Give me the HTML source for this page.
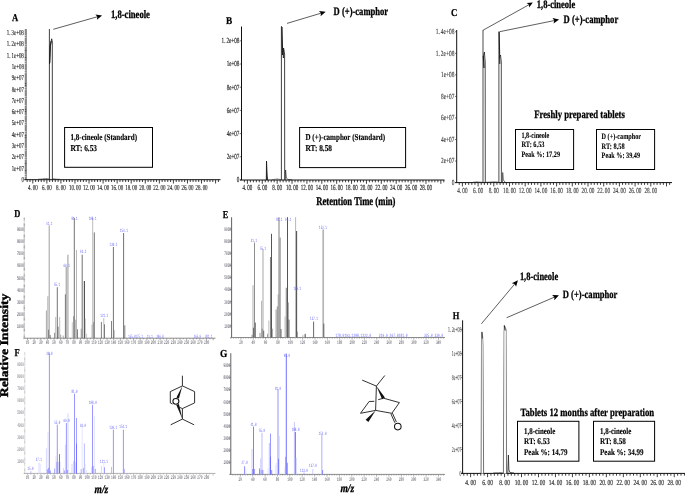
<!DOCTYPE html>
<html><head><meta charset="utf-8"><title>GC-MS figure</title>
<style>
html,body{margin:0;padding:0;background:#fff;}
body{width:685px;height:494px;overflow:hidden;font-family:"Liberation Serif",serif;}
svg{display:block;}
</style></head><body>
<svg width="685" height="494" viewBox="0 0 685 494" text-rendering="geometricPrecision" style="filter:blur(0.3px)">
<rect x="0" y="0" width="685" height="494" fill="#fff"/>
<text x="12" y="21" font-family='"Liberation Serif", serif' font-size="10.5" fill="#000" font-weight="bold" stroke="#000" stroke-width="0.25" textLength="6.2" lengthAdjust="spacingAndGlyphs">A</text>
<line x1="26.35" y1="29" x2="26.35" y2="179.7" stroke="#555" stroke-width="0.5"/>
<line x1="25.6" y1="179.7" x2="25.6" y2="29" stroke="#1a1a1a" stroke-width="1.7" stroke-dasharray="0.54 0.59"/>
<line x1="24.3" y1="179.7" x2="220.5" y2="179.7" stroke="#111" stroke-width="1"/>
<path d="M27.18 179.7L27.18 182M29.99 179.7L29.99 182M32.8 179.7L32.8 183.5M35.61 179.7L35.61 182M38.42 179.7L38.42 182M41.24 179.7L41.24 182M44.05 179.7L44.05 182M46.86 179.7L46.86 183.5M49.67 179.7L49.67 182M52.48 179.7L52.48 182M55.3 179.7L55.3 182M58.11 179.7L58.11 182M60.92 179.7L60.92 183.5M63.73 179.7L63.73 182M66.54 179.7L66.54 182M69.36 179.7L69.36 182M72.17 179.7L72.17 182M74.98 179.7L74.98 183.5M77.79 179.7L77.79 182M80.6 179.7L80.6 182M83.42 179.7L83.42 182M86.23 179.7L86.23 182M89.04 179.7L89.04 183.5M91.85 179.7L91.85 182M94.66 179.7L94.66 182M97.48 179.7L97.48 182M100.29 179.7L100.29 182M103.1 179.7L103.1 183.5M105.91 179.7L105.91 182M108.72 179.7L108.72 182M111.54 179.7L111.54 182M114.35 179.7L114.35 182M117.16 179.7L117.16 183.5M119.97 179.7L119.97 182M122.78 179.7L122.78 182M125.6 179.7L125.6 182M128.41 179.7L128.41 182M131.22 179.7L131.22 183.5M134.03 179.7L134.03 182M136.84 179.7L136.84 182M139.66 179.7L139.66 182M142.47 179.7L142.47 182M145.28 179.7L145.28 183.5M148.09 179.7L148.09 182M150.9 179.7L150.9 182M153.72 179.7L153.72 182M156.53 179.7L156.53 182M159.34 179.7L159.34 183.5M162.15 179.7L162.15 182M164.96 179.7L164.96 182M167.78 179.7L167.78 182M170.59 179.7L170.59 182M173.4 179.7L173.4 183.5M176.21 179.7L176.21 182M179.02 179.7L179.02 182M181.84 179.7L181.84 182M184.65 179.7L184.65 182M187.46 179.7L187.46 183.5M190.27 179.7L190.27 182M193.08 179.7L193.08 182M195.9 179.7L195.9 182M198.71 179.7L198.71 182M201.52 179.7L201.52 183.5M204.33 179.7L204.33 182M207.14 179.7L207.14 182M209.96 179.7L209.96 182M212.77 179.7L212.77 182M215.58 179.7L215.58 183.5M218.39 179.7L218.39 182" fill="none" stroke="#111" stroke-width="0.8"/>
<text x="27.96" y="190.2" font-family='"Liberation Serif", serif' font-size="7.6" fill="#222" textLength="9.68" lengthAdjust="spacingAndGlyphs" stroke="#222" stroke-width="0.15">4. 00</text>
<text x="42.02" y="190.2" font-family='"Liberation Serif", serif' font-size="7.6" fill="#222" textLength="9.68" lengthAdjust="spacingAndGlyphs" stroke="#222" stroke-width="0.15">6. 00</text>
<text x="56.08" y="190.2" font-family='"Liberation Serif", serif' font-size="7.6" fill="#222" textLength="9.68" lengthAdjust="spacingAndGlyphs" stroke="#222" stroke-width="0.15">8. 00</text>
<text x="68.93" y="190.2" font-family='"Liberation Serif", serif' font-size="7.6" fill="#222" textLength="12.1" lengthAdjust="spacingAndGlyphs" stroke="#222" stroke-width="0.15">10. 00</text>
<text x="82.99" y="190.2" font-family='"Liberation Serif", serif' font-size="7.6" fill="#222" textLength="12.1" lengthAdjust="spacingAndGlyphs" stroke="#222" stroke-width="0.15">12. 00</text>
<text x="97.05" y="190.2" font-family='"Liberation Serif", serif' font-size="7.6" fill="#222" textLength="12.1" lengthAdjust="spacingAndGlyphs" stroke="#222" stroke-width="0.15">14. 00</text>
<text x="111.11" y="190.2" font-family='"Liberation Serif", serif' font-size="7.6" fill="#222" textLength="12.1" lengthAdjust="spacingAndGlyphs" stroke="#222" stroke-width="0.15">16. 00</text>
<text x="125.17" y="190.2" font-family='"Liberation Serif", serif' font-size="7.6" fill="#222" textLength="12.1" lengthAdjust="spacingAndGlyphs" stroke="#222" stroke-width="0.15">18. 00</text>
<text x="139.23" y="190.2" font-family='"Liberation Serif", serif' font-size="7.6" fill="#222" textLength="12.1" lengthAdjust="spacingAndGlyphs" stroke="#222" stroke-width="0.15">20. 00</text>
<text x="153.29" y="190.2" font-family='"Liberation Serif", serif' font-size="7.6" fill="#222" textLength="12.1" lengthAdjust="spacingAndGlyphs" stroke="#222" stroke-width="0.15">22. 00</text>
<text x="167.35" y="190.2" font-family='"Liberation Serif", serif' font-size="7.6" fill="#222" textLength="12.1" lengthAdjust="spacingAndGlyphs" stroke="#222" stroke-width="0.15">24. 00</text>
<text x="181.41" y="190.2" font-family='"Liberation Serif", serif' font-size="7.6" fill="#222" textLength="12.1" lengthAdjust="spacingAndGlyphs" stroke="#222" stroke-width="0.15">26. 00</text>
<text x="195.47" y="190.2" font-family='"Liberation Serif", serif' font-size="7.6" fill="#222" textLength="12.1" lengthAdjust="spacingAndGlyphs" stroke="#222" stroke-width="0.15">28. 00</text>
<text x="21.38" y="181.98" font-family='"Liberation Serif", serif' font-size="7.6" fill="#222" textLength="2.42" lengthAdjust="spacingAndGlyphs" stroke="#222" stroke-width="0.15">0</text>
<text x="11.7" y="170.68" font-family='"Liberation Serif", serif' font-size="7.6" fill="#222" textLength="12.1" lengthAdjust="spacingAndGlyphs" stroke="#222" stroke-width="0.15">1e+07</text>
<text x="11.7" y="159.38" font-family='"Liberation Serif", serif' font-size="7.6" fill="#222" textLength="12.1" lengthAdjust="spacingAndGlyphs" stroke="#222" stroke-width="0.15">2e+07</text>
<text x="11.7" y="148.08" font-family='"Liberation Serif", serif' font-size="7.6" fill="#222" textLength="12.1" lengthAdjust="spacingAndGlyphs" stroke="#222" stroke-width="0.15">3e+07</text>
<text x="11.7" y="136.78" font-family='"Liberation Serif", serif' font-size="7.6" fill="#222" textLength="12.1" lengthAdjust="spacingAndGlyphs" stroke="#222" stroke-width="0.15">4e+07</text>
<text x="11.7" y="125.48" font-family='"Liberation Serif", serif' font-size="7.6" fill="#222" textLength="12.1" lengthAdjust="spacingAndGlyphs" stroke="#222" stroke-width="0.15">5e+07</text>
<text x="11.7" y="114.18" font-family='"Liberation Serif", serif' font-size="7.6" fill="#222" textLength="12.1" lengthAdjust="spacingAndGlyphs" stroke="#222" stroke-width="0.15">6e+07</text>
<text x="11.7" y="102.88" font-family='"Liberation Serif", serif' font-size="7.6" fill="#222" textLength="12.1" lengthAdjust="spacingAndGlyphs" stroke="#222" stroke-width="0.15">7e+07</text>
<text x="11.7" y="91.58" font-family='"Liberation Serif", serif' font-size="7.6" fill="#222" textLength="12.1" lengthAdjust="spacingAndGlyphs" stroke="#222" stroke-width="0.15">8e+07</text>
<text x="11.7" y="80.28" font-family='"Liberation Serif", serif' font-size="7.6" fill="#222" textLength="12.1" lengthAdjust="spacingAndGlyphs" stroke="#222" stroke-width="0.15">9e+07</text>
<text x="11.7" y="68.98" font-family='"Liberation Serif", serif' font-size="7.6" fill="#222" textLength="12.1" lengthAdjust="spacingAndGlyphs" stroke="#222" stroke-width="0.15">1e+08</text>
<text x="6.86" y="57.68" font-family='"Liberation Serif", serif' font-size="7.6" fill="#222" textLength="16.94" lengthAdjust="spacingAndGlyphs" stroke="#222" stroke-width="0.15">1. 1e+08</text>
<text x="6.86" y="46.38" font-family='"Liberation Serif", serif' font-size="7.6" fill="#222" textLength="16.94" lengthAdjust="spacingAndGlyphs" stroke="#222" stroke-width="0.15">1. 2e+08</text>
<text x="6.86" y="35.08" font-family='"Liberation Serif", serif' font-size="7.6" fill="#222" textLength="16.94" lengthAdjust="spacingAndGlyphs" stroke="#222" stroke-width="0.15">1. 3e+08</text>
<path d="M49.4 179.7 L49.4 29 M49.5 64 L50.2 46 L51.7 38.8 L52.3 42 L52.4 179.7" fill="none" stroke="#111" stroke-width="0.8"/>
<path d="M49.7 63 L50.3 46 L51.2 41" fill="none" stroke="#222" stroke-width="1.2"/>
<path d="M38 179.3 L43 179 L44 178.6 L45 179 L46 178.5 L47.5 178.7 L49 179" fill="none" stroke="#222" stroke-width="0.6"/>
<path d="M52.5 179 L54 178.8 L56 179.2 L60 179.3" fill="none" stroke="#222" stroke-width="0.6"/>
<line x1="53.3" y1="29.3" x2="97.87" y2="16.61" stroke="#111" stroke-width="0.68"/>
<polygon points="102.1,15.4 96.9,19.79 97.39,16.74 95.37,14.41" fill="#000"/>
<text x="111" y="17.6" font-family='"Liberation Serif", serif' font-size="11.4" fill="#000" font-weight="bold" stroke="#000" stroke-width="0.31" textLength="38.9" lengthAdjust="spacingAndGlyphs">1,8-cineole</text>
<rect x="64.6" y="127.5" width="87.9" height="39.8" fill="none" stroke="#000" stroke-width="1"/>
<text x="70.5" y="139.9" font-family='"Liberation Serif", serif' font-size="9" fill="#000" font-weight="bold" stroke="#000" stroke-width="0.14" textLength="66.5" lengthAdjust="spacingAndGlyphs">1,8-cineole (Standard)</text>
<text x="70.5" y="150.6" font-family='"Liberation Serif", serif' font-size="9" fill="#000" font-weight="bold" stroke="#000" stroke-width="0.14" textLength="26.5" lengthAdjust="spacingAndGlyphs">RT: 6.53</text>
<text x="226" y="23.6" font-family='"Liberation Serif", serif' font-size="10.5" fill="#000" font-weight="bold" stroke="#000" stroke-width="0.25" textLength="6.2" lengthAdjust="spacingAndGlyphs">B</text>
<line x1="241.5" y1="26.5" x2="241.5" y2="180" stroke="#111" stroke-width="1"/>
<path d="M239.7 180L241.5 180M239.7 156.8L241.5 156.8M239.7 133.6L241.5 133.6M239.7 110.4L241.5 110.4M239.7 87.2L241.5 87.2M239.7 64L241.5 64M239.7 40.8L241.5 40.8" fill="none" stroke="#222" stroke-width="0.6"/>
<line x1="240" y1="180" x2="444.5" y2="180" stroke="#111" stroke-width="1"/>
<path d="M244.42 180L244.42 182.3M247.4 180L247.4 183.8M250.38 180L250.38 182.3M253.35 180L253.35 182.3M256.33 180L256.33 182.3M259.3 180L259.3 182.3M262.28 180L262.28 183.8M265.26 180L265.26 182.3M268.23 180L268.23 182.3M271.21 180L271.21 182.3M274.18 180L274.18 182.3M277.16 180L277.16 183.8M280.14 180L280.14 182.3M283.11 180L283.11 182.3M286.09 180L286.09 182.3M289.06 180L289.06 182.3M292.04 180L292.04 183.8M295.02 180L295.02 182.3M297.99 180L297.99 182.3M300.97 180L300.97 182.3M303.94 180L303.94 182.3M306.92 180L306.92 183.8M309.9 180L309.9 182.3M312.87 180L312.87 182.3M315.85 180L315.85 182.3M318.82 180L318.82 182.3M321.8 180L321.8 183.8M324.78 180L324.78 182.3M327.75 180L327.75 182.3M330.73 180L330.73 182.3M333.7 180L333.7 182.3M336.68 180L336.68 183.8M339.66 180L339.66 182.3M342.63 180L342.63 182.3M345.61 180L345.61 182.3M348.58 180L348.58 182.3M351.56 180L351.56 183.8M354.54 180L354.54 182.3M357.51 180L357.51 182.3M360.49 180L360.49 182.3M363.46 180L363.46 182.3M366.44 180L366.44 183.8M369.42 180L369.42 182.3M372.39 180L372.39 182.3M375.37 180L375.37 182.3M378.34 180L378.34 182.3M381.32 180L381.32 183.8M384.3 180L384.3 182.3M387.27 180L387.27 182.3M390.25 180L390.25 182.3M393.22 180L393.22 182.3M396.2 180L396.2 183.8M399.18 180L399.18 182.3M402.15 180L402.15 182.3M405.13 180L405.13 182.3M408.1 180L408.1 182.3M411.08 180L411.08 183.8M414.06 180L414.06 182.3M417.03 180L417.03 182.3M420.01 180L420.01 182.3M422.98 180L422.98 182.3M425.96 180L425.96 183.8M428.94 180L428.94 182.3M431.91 180L431.91 182.3M434.89 180L434.89 182.3M437.86 180L437.86 182.3M440.84 180L440.84 183.8M443.82 180L443.82 182.3" fill="none" stroke="#111" stroke-width="0.8"/>
<text x="242.5" y="190" font-family='"Liberation Serif", serif' font-size="7.8" fill="#2c2c2c" textLength="9.8" lengthAdjust="spacingAndGlyphs" stroke="#2c2c2c" stroke-width="0.2">4. 00</text>
<text x="257.38" y="190" font-family='"Liberation Serif", serif' font-size="7.8" fill="#2c2c2c" textLength="9.8" lengthAdjust="spacingAndGlyphs" stroke="#2c2c2c" stroke-width="0.2">6. 00</text>
<text x="272.26" y="190" font-family='"Liberation Serif", serif' font-size="7.8" fill="#2c2c2c" textLength="9.8" lengthAdjust="spacingAndGlyphs" stroke="#2c2c2c" stroke-width="0.2">8. 00</text>
<text x="285.92" y="190" font-family='"Liberation Serif", serif' font-size="7.8" fill="#2c2c2c" textLength="12.25" lengthAdjust="spacingAndGlyphs" stroke="#2c2c2c" stroke-width="0.2">10. 00</text>
<text x="300.8" y="190" font-family='"Liberation Serif", serif' font-size="7.8" fill="#2c2c2c" textLength="12.25" lengthAdjust="spacingAndGlyphs" stroke="#2c2c2c" stroke-width="0.2">12. 00</text>
<text x="315.68" y="190" font-family='"Liberation Serif", serif' font-size="7.8" fill="#2c2c2c" textLength="12.25" lengthAdjust="spacingAndGlyphs" stroke="#2c2c2c" stroke-width="0.2">14. 00</text>
<text x="330.56" y="190" font-family='"Liberation Serif", serif' font-size="7.8" fill="#2c2c2c" textLength="12.25" lengthAdjust="spacingAndGlyphs" stroke="#2c2c2c" stroke-width="0.2">16. 00</text>
<text x="345.44" y="190" font-family='"Liberation Serif", serif' font-size="7.8" fill="#2c2c2c" textLength="12.25" lengthAdjust="spacingAndGlyphs" stroke="#2c2c2c" stroke-width="0.2">18. 00</text>
<text x="360.31" y="190" font-family='"Liberation Serif", serif' font-size="7.8" fill="#2c2c2c" textLength="12.25" lengthAdjust="spacingAndGlyphs" stroke="#2c2c2c" stroke-width="0.2">20. 00</text>
<text x="375.2" y="190" font-family='"Liberation Serif", serif' font-size="7.8" fill="#2c2c2c" textLength="12.25" lengthAdjust="spacingAndGlyphs" stroke="#2c2c2c" stroke-width="0.2">22. 00</text>
<text x="390.08" y="190" font-family='"Liberation Serif", serif' font-size="7.8" fill="#2c2c2c" textLength="12.25" lengthAdjust="spacingAndGlyphs" stroke="#2c2c2c" stroke-width="0.2">24. 00</text>
<text x="404.96" y="190" font-family='"Liberation Serif", serif' font-size="7.8" fill="#2c2c2c" textLength="12.25" lengthAdjust="spacingAndGlyphs" stroke="#2c2c2c" stroke-width="0.2">26. 00</text>
<text x="419.84" y="190" font-family='"Liberation Serif", serif' font-size="7.8" fill="#2c2c2c" textLength="12.25" lengthAdjust="spacingAndGlyphs" stroke="#2c2c2c" stroke-width="0.2">28. 00</text>
<text x="236.86" y="182.34" font-family='"Liberation Serif", serif' font-size="7.8" fill="#2c2c2c" textLength="2.54" lengthAdjust="spacingAndGlyphs" stroke="#2c2c2c" stroke-width="0.2">0</text>
<text x="226.7" y="159.14" font-family='"Liberation Serif", serif' font-size="7.8" fill="#2c2c2c" textLength="12.7" lengthAdjust="spacingAndGlyphs" stroke="#2c2c2c" stroke-width="0.2">2e+07</text>
<text x="226.7" y="135.94" font-family='"Liberation Serif", serif' font-size="7.8" fill="#2c2c2c" textLength="12.7" lengthAdjust="spacingAndGlyphs" stroke="#2c2c2c" stroke-width="0.2">4e+07</text>
<text x="226.7" y="112.74" font-family='"Liberation Serif", serif' font-size="7.8" fill="#2c2c2c" textLength="12.7" lengthAdjust="spacingAndGlyphs" stroke="#2c2c2c" stroke-width="0.2">6e+07</text>
<text x="226.7" y="89.54" font-family='"Liberation Serif", serif' font-size="7.8" fill="#2c2c2c" textLength="12.7" lengthAdjust="spacingAndGlyphs" stroke="#2c2c2c" stroke-width="0.2">8e+07</text>
<text x="226.7" y="66.34" font-family='"Liberation Serif", serif' font-size="7.8" fill="#2c2c2c" textLength="12.7" lengthAdjust="spacingAndGlyphs" stroke="#2c2c2c" stroke-width="0.2">1e+08</text>
<text x="221.62" y="43.14" font-family='"Liberation Serif", serif' font-size="7.8" fill="#2c2c2c" textLength="17.78" lengthAdjust="spacingAndGlyphs" stroke="#2c2c2c" stroke-width="0.2">1. 2e+08</text>
<path d="M266.3 180 L266.5 161 L267.2 176 L267.6 180" fill="#333" stroke="#111" stroke-width="0.8"/>
<path d="M281.4 180 L281.4 26.5 L282.0 26.5 M282.2 50 L283 52 L283.6 48 L284.6 54 L284.7 180" fill="none" stroke="#111" stroke-width="0.8"/>
<path d="M281.9 27 L282.6 55" fill="none" stroke="#222" stroke-width="1.3"/>
<path d="M283.2 49 L283.4 58" fill="none" stroke="#222" stroke-width="1.1"/>
<path d="M285.3 180 L285.6 170 L286.3 178 L288 179.5 L292 179.8" fill="none" stroke="#222" stroke-width="0.7"/>
<path d="M272 179.6 L276 179.2 L277 178.8 L279 179.3 L281 179.5" fill="none" stroke="#333" stroke-width="0.5"/>
<line x1="287" y1="23.4" x2="321.49" y2="13.06" stroke="#111" stroke-width="0.68"/>
<polygon points="325.7,11.8 320.56,16.26 321.01,13.21 318.96,10.9" fill="#000"/>
<text x="333.6" y="15.1" font-family='"Liberation Serif", serif' font-size="11.4" fill="#000" font-weight="bold" stroke="#000" stroke-width="0.31" textLength="54.5" lengthAdjust="spacingAndGlyphs">D (+)-camphor</text>
<rect x="299.6" y="127.5" width="106" height="40.1" fill="none" stroke="#000" stroke-width="1"/>
<text x="305.5" y="139.9" font-family='"Liberation Serif", serif' font-size="9" fill="#000" font-weight="bold" stroke="#000" stroke-width="0.14" textLength="79.6" lengthAdjust="spacingAndGlyphs">D (+)-camphor (Standard)</text>
<text x="305.5" y="150.6" font-family='"Liberation Serif", serif' font-size="9" fill="#000" font-weight="bold" stroke="#000" stroke-width="0.14" textLength="26.5" lengthAdjust="spacingAndGlyphs">RT: 8.58</text>
<text x="316.2" y="204.8" font-family='"Liberation Serif", serif' font-size="11.7" fill="#000" font-weight="bold" stroke="#000" stroke-width="0.33" textLength="79.3" lengthAdjust="spacingAndGlyphs">Retention Time (min)</text>
<text x="451" y="16.2" font-family='"Liberation Serif", serif' font-size="10.5" fill="#000" font-weight="bold" stroke="#000" stroke-width="0.25" textLength="6.4" lengthAdjust="spacingAndGlyphs">C</text>
<line x1="456.7" y1="30" x2="456.7" y2="182.6" stroke="#111" stroke-width="1"/>
<path d="M454.9 182.6L456.7 182.6M454.9 161.05L456.7 161.05M454.9 139.5L456.7 139.5M454.9 117.95L456.7 117.95M454.9 96.4L456.7 96.4M454.9 74.85L456.7 74.85M454.9 53.3L456.7 53.3M454.9 31.75L456.7 31.75" fill="none" stroke="#222" stroke-width="0.6"/>
<line x1="455.2" y1="182.6" x2="672" y2="182.6" stroke="#111" stroke-width="1"/>
<path d="M459.26 182.6L459.26 184.9M462.4 182.6L462.4 186.4M465.54 182.6L465.54 184.9M468.68 182.6L468.68 184.9M471.82 182.6L471.82 184.9M474.96 182.6L474.96 184.9M478.1 182.6L478.1 186.4M481.24 182.6L481.24 184.9M484.38 182.6L484.38 184.9M487.52 182.6L487.52 184.9M490.66 182.6L490.66 184.9M493.8 182.6L493.8 186.4M496.94 182.6L496.94 184.9M500.08 182.6L500.08 184.9M503.22 182.6L503.22 184.9M506.36 182.6L506.36 184.9M509.5 182.6L509.5 186.4M512.64 182.6L512.64 184.9M515.78 182.6L515.78 184.9M518.92 182.6L518.92 184.9M522.06 182.6L522.06 184.9M525.2 182.6L525.2 186.4M528.34 182.6L528.34 184.9M531.48 182.6L531.48 184.9M534.62 182.6L534.62 184.9M537.76 182.6L537.76 184.9M540.9 182.6L540.9 186.4M544.04 182.6L544.04 184.9M547.18 182.6L547.18 184.9M550.32 182.6L550.32 184.9M553.46 182.6L553.46 184.9M556.6 182.6L556.6 186.4M559.74 182.6L559.74 184.9M562.88 182.6L562.88 184.9M566.02 182.6L566.02 184.9M569.16 182.6L569.16 184.9M572.3 182.6L572.3 186.4M575.44 182.6L575.44 184.9M578.58 182.6L578.58 184.9M581.72 182.6L581.72 184.9M584.86 182.6L584.86 184.9M588 182.6L588 186.4M591.14 182.6L591.14 184.9M594.28 182.6L594.28 184.9M597.42 182.6L597.42 184.9M600.56 182.6L600.56 184.9M603.7 182.6L603.7 186.4M606.84 182.6L606.84 184.9M609.98 182.6L609.98 184.9M613.12 182.6L613.12 184.9M616.26 182.6L616.26 184.9M619.4 182.6L619.4 186.4M622.54 182.6L622.54 184.9M625.68 182.6L625.68 184.9M628.82 182.6L628.82 184.9M631.96 182.6L631.96 184.9M635.1 182.6L635.1 186.4M638.24 182.6L638.24 184.9M641.38 182.6L641.38 184.9M644.52 182.6L644.52 184.9M647.66 182.6L647.66 184.9M650.8 182.6L650.8 186.4M653.94 182.6L653.94 184.9M657.08 182.6L657.08 184.9M660.22 182.6L660.22 184.9M663.36 182.6L663.36 184.9M666.5 182.6L666.5 186.4M669.64 182.6L669.64 184.9" fill="none" stroke="#111" stroke-width="0.8"/>
<text x="457.3" y="192.5" font-family='"Liberation Serif", serif' font-size="7.8" fill="#3c3c3c" textLength="10.2" lengthAdjust="spacingAndGlyphs" stroke="#3c3c3c" stroke-width="0.15">4. 00</text>
<text x="473" y="192.5" font-family='"Liberation Serif", serif' font-size="7.8" fill="#3c3c3c" textLength="10.2" lengthAdjust="spacingAndGlyphs" stroke="#3c3c3c" stroke-width="0.15">6. 00</text>
<text x="488.7" y="192.5" font-family='"Liberation Serif", serif' font-size="7.8" fill="#3c3c3c" textLength="10.2" lengthAdjust="spacingAndGlyphs" stroke="#3c3c3c" stroke-width="0.15">8. 00</text>
<text x="503.12" y="192.5" font-family='"Liberation Serif", serif' font-size="7.8" fill="#3c3c3c" textLength="12.75" lengthAdjust="spacingAndGlyphs" stroke="#3c3c3c" stroke-width="0.15">10. 00</text>
<text x="518.82" y="192.5" font-family='"Liberation Serif", serif' font-size="7.8" fill="#3c3c3c" textLength="12.75" lengthAdjust="spacingAndGlyphs" stroke="#3c3c3c" stroke-width="0.15">12. 00</text>
<text x="534.52" y="192.5" font-family='"Liberation Serif", serif' font-size="7.8" fill="#3c3c3c" textLength="12.75" lengthAdjust="spacingAndGlyphs" stroke="#3c3c3c" stroke-width="0.15">14. 00</text>
<text x="550.22" y="192.5" font-family='"Liberation Serif", serif' font-size="7.8" fill="#3c3c3c" textLength="12.75" lengthAdjust="spacingAndGlyphs" stroke="#3c3c3c" stroke-width="0.15">16. 00</text>
<text x="565.92" y="192.5" font-family='"Liberation Serif", serif' font-size="7.8" fill="#3c3c3c" textLength="12.75" lengthAdjust="spacingAndGlyphs" stroke="#3c3c3c" stroke-width="0.15">18. 00</text>
<text x="581.62" y="192.5" font-family='"Liberation Serif", serif' font-size="7.8" fill="#3c3c3c" textLength="12.75" lengthAdjust="spacingAndGlyphs" stroke="#3c3c3c" stroke-width="0.15">20. 00</text>
<text x="597.32" y="192.5" font-family='"Liberation Serif", serif' font-size="7.8" fill="#3c3c3c" textLength="12.75" lengthAdjust="spacingAndGlyphs" stroke="#3c3c3c" stroke-width="0.15">22. 00</text>
<text x="613.02" y="192.5" font-family='"Liberation Serif", serif' font-size="7.8" fill="#3c3c3c" textLength="12.75" lengthAdjust="spacingAndGlyphs" stroke="#3c3c3c" stroke-width="0.15">24. 00</text>
<text x="628.72" y="192.5" font-family='"Liberation Serif", serif' font-size="7.8" fill="#3c3c3c" textLength="12.75" lengthAdjust="spacingAndGlyphs" stroke="#3c3c3c" stroke-width="0.15">26. 00</text>
<text x="644.42" y="192.5" font-family='"Liberation Serif", serif' font-size="7.8" fill="#3c3c3c" textLength="12.75" lengthAdjust="spacingAndGlyphs" stroke="#3c3c3c" stroke-width="0.15">28. 00</text>
<text x="451.73" y="184.94" font-family='"Liberation Serif", serif' font-size="7.8" fill="#3c3c3c" textLength="2.67" lengthAdjust="spacingAndGlyphs" stroke="#3c3c3c" stroke-width="0.15">0</text>
<text x="441.05" y="163.39" font-family='"Liberation Serif", serif' font-size="7.8" fill="#3c3c3c" textLength="13.35" lengthAdjust="spacingAndGlyphs" stroke="#3c3c3c" stroke-width="0.15">2e+07</text>
<text x="441.05" y="141.84" font-family='"Liberation Serif", serif' font-size="7.8" fill="#3c3c3c" textLength="13.35" lengthAdjust="spacingAndGlyphs" stroke="#3c3c3c" stroke-width="0.15">4e+07</text>
<text x="441.05" y="120.29" font-family='"Liberation Serif", serif' font-size="7.8" fill="#3c3c3c" textLength="13.35" lengthAdjust="spacingAndGlyphs" stroke="#3c3c3c" stroke-width="0.15">6e+07</text>
<text x="441.05" y="98.74" font-family='"Liberation Serif", serif' font-size="7.8" fill="#3c3c3c" textLength="13.35" lengthAdjust="spacingAndGlyphs" stroke="#3c3c3c" stroke-width="0.15">8e+07</text>
<text x="441.05" y="77.19" font-family='"Liberation Serif", serif' font-size="7.8" fill="#3c3c3c" textLength="13.35" lengthAdjust="spacingAndGlyphs" stroke="#3c3c3c" stroke-width="0.15">1e+08</text>
<text x="435.71" y="55.64" font-family='"Liberation Serif", serif' font-size="7.8" fill="#3c3c3c" textLength="18.69" lengthAdjust="spacingAndGlyphs" stroke="#3c3c3c" stroke-width="0.15">1. 2e+08</text>
<text x="435.71" y="34.09" font-family='"Liberation Serif", serif' font-size="7.8" fill="#3c3c3c" textLength="18.69" lengthAdjust="spacingAndGlyphs" stroke="#3c3c3c" stroke-width="0.15">1. 4e+08</text>
<path d="M483.0 182.6 L483.0 30 M483.3 57 L484.4 52 L485.2 62 L485.3 182.6" fill="none" stroke="#111" stroke-width="0.75"/>
<path d="M483.4 56 L484.0 68" fill="none" stroke="#222" stroke-width="1.3"/>
<path d="M498.9 182.6 L498.9 31.4 M499.2 58 L500.5 55 L501.3 62 L501.4 182.6" fill="none" stroke="#111" stroke-width="0.75"/>
<path d="M499.2 32 L499.8 64" fill="none" stroke="#222" stroke-width="1.1"/>
<path d="M502.5 182.6 L502.7 172.5 L503.3 180 L505 182" fill="none" stroke="#333" stroke-width="0.7"/>
<path d="M473 182.2 L476 181.9 L477 181.5 L478 182 L482 182.2 M486 182.2 L490 182 L494 181.7 L498 182" fill="none" stroke="#333" stroke-width="0.5"/>
<line x1="483.1" y1="30.2" x2="529.48" y2="4.44" stroke="#111" stroke-width="0.68"/>
<polygon points="532.8,2.6 529.17,7.59 529.04,4.69 526.64,3.05" fill="#000"/>
<line x1="499.6" y1="31.7" x2="554.79" y2="20.48" stroke="#111" stroke-width="0.68"/>
<polygon points="559.1,19.6 553.58,23.58 554.3,20.58 552.47,18.09" fill="#000"/>
<text x="536.8" y="7.6" font-family='"Liberation Serif", serif' font-size="11.4" fill="#000" font-weight="bold" stroke="#000" stroke-width="0.31" textLength="38.4" lengthAdjust="spacingAndGlyphs">1,8-cineole</text>
<text x="563.6" y="23.2" font-family='"Liberation Serif", serif' font-size="11.4" fill="#000" font-weight="bold" stroke="#000" stroke-width="0.31" textLength="54.6" lengthAdjust="spacingAndGlyphs">D (+)-camphor</text>
<text x="534.3" y="117.8" font-family='"Liberation Serif", serif' font-size="11.3" fill="#000" font-weight="bold" stroke="#000" stroke-width="0.3" textLength="90.5" lengthAdjust="spacingAndGlyphs">Freshly prepared tablets</text>
<rect x="515.5" y="129.5" width="58.1" height="40" fill="none" stroke="#000" stroke-width="1"/>
<rect x="596.5" y="129.5" width="58.1" height="40" fill="none" stroke="#000" stroke-width="1"/>
<text x="521.5" y="137.7" font-family='"Liberation Serif", serif' font-size="8.3" fill="#000" font-weight="bold" stroke="#000" stroke-width="0.09" textLength="27.8" lengthAdjust="spacingAndGlyphs">1,8-cineole</text>
<text x="521.5" y="147.1" font-family='"Liberation Serif", serif' font-size="8.3" fill="#000" font-weight="bold" stroke="#000" stroke-width="0.09" textLength="23" lengthAdjust="spacingAndGlyphs">RT: 6.53</text>
<text x="521.5" y="156.5" font-family='"Liberation Serif", serif' font-size="8.3" fill="#000" font-weight="bold" stroke="#000" stroke-width="0.09" textLength="38.5" lengthAdjust="spacingAndGlyphs">Peak %: 17.29</text>
<text x="601.6" y="139.1" font-family='"Liberation Serif", serif' font-size="8.3" fill="#000" font-weight="bold" stroke="#000" stroke-width="0.09" textLength="39.4" lengthAdjust="spacingAndGlyphs">D (+)-camphor</text>
<text x="601.6" y="148.7" font-family='"Liberation Serif", serif' font-size="8.3" fill="#000" font-weight="bold" stroke="#000" stroke-width="0.09" textLength="23" lengthAdjust="spacingAndGlyphs">RT: 8.58</text>
<text x="601.6" y="158.1" font-family='"Liberation Serif", serif' font-size="8.3" fill="#000" font-weight="bold" stroke="#000" stroke-width="0.09" textLength="38.4" lengthAdjust="spacingAndGlyphs">Peak %: 39.49</text>
<text x="452.7" y="319.3" font-family='"Liberation Serif", serif' font-size="10.5" fill="#000" font-weight="bold" stroke="#000" stroke-width="0.25" textLength="6.6" lengthAdjust="spacingAndGlyphs">H</text>
<line x1="462.6" y1="320.3" x2="462.6" y2="473.4" stroke="#111" stroke-width="1"/>
<path d="M460.8 473.4L462.6 473.4M460.8 449.45L462.6 449.45M460.8 425.5L462.6 425.5M460.8 401.55L462.6 401.55M460.8 377.6L462.6 377.6M460.8 353.65L462.6 353.65M460.8 329.7L462.6 329.7" fill="none" stroke="#222" stroke-width="0.6"/>
<line x1="461.1" y1="473.4" x2="686" y2="473.4" stroke="#111" stroke-width="1"/>
<path d="M463.81 473.4L463.81 475.7M467.21 473.4L467.21 475.7M470.6 473.4L470.6 477.2M473.99 473.4L473.99 475.7M477.39 473.4L477.39 475.7M480.78 473.4L480.78 475.7M484.18 473.4L484.18 475.7M487.57 473.4L487.57 477.2M490.96 473.4L490.96 475.7M494.36 473.4L494.36 475.7M497.75 473.4L497.75 475.7M501.15 473.4L501.15 475.7M504.54 473.4L504.54 477.2M507.93 473.4L507.93 475.7M511.33 473.4L511.33 475.7M514.72 473.4L514.72 475.7M518.12 473.4L518.12 475.7M521.51 473.4L521.51 477.2M524.9 473.4L524.9 475.7M528.3 473.4L528.3 475.7M531.69 473.4L531.69 475.7M535.09 473.4L535.09 475.7M538.48 473.4L538.48 477.2M541.87 473.4L541.87 475.7M545.27 473.4L545.27 475.7M548.66 473.4L548.66 475.7M552.06 473.4L552.06 475.7M555.45 473.4L555.45 477.2M558.84 473.4L558.84 475.7M562.24 473.4L562.24 475.7M565.63 473.4L565.63 475.7M569.03 473.4L569.03 475.7M572.42 473.4L572.42 477.2M575.81 473.4L575.81 475.7M579.21 473.4L579.21 475.7M582.6 473.4L582.6 475.7M586 473.4L586 475.7M589.39 473.4L589.39 477.2M592.78 473.4L592.78 475.7M596.18 473.4L596.18 475.7M599.57 473.4L599.57 475.7M602.97 473.4L602.97 475.7M606.36 473.4L606.36 477.2M609.75 473.4L609.75 475.7M613.15 473.4L613.15 475.7M616.54 473.4L616.54 475.7M619.94 473.4L619.94 475.7M623.33 473.4L623.33 477.2M626.72 473.4L626.72 475.7M630.12 473.4L630.12 475.7M633.51 473.4L633.51 475.7M636.91 473.4L636.91 475.7M640.3 473.4L640.3 477.2M643.69 473.4L643.69 475.7M647.09 473.4L647.09 475.7M650.48 473.4L650.48 475.7M653.88 473.4L653.88 475.7M657.27 473.4L657.27 477.2M660.66 473.4L660.66 475.7M664.06 473.4L664.06 475.7M667.45 473.4L667.45 475.7M670.85 473.4L670.85 475.7M674.24 473.4L674.24 477.2M677.63 473.4L677.63 475.7M681.03 473.4L681.03 475.7M684.42 473.4L684.42 475.7" fill="none" stroke="#111" stroke-width="0.8"/>
<text x="465.2" y="484.7" font-family='"Liberation Serif", serif' font-size="7.6" fill="#333" textLength="10.8" lengthAdjust="spacingAndGlyphs" stroke="#333" stroke-width="0.2">4. 00</text>
<text x="482.17" y="484.7" font-family='"Liberation Serif", serif' font-size="7.6" fill="#333" textLength="10.8" lengthAdjust="spacingAndGlyphs" stroke="#333" stroke-width="0.2">6. 00</text>
<text x="499.14" y="484.7" font-family='"Liberation Serif", serif' font-size="7.6" fill="#333" textLength="10.8" lengthAdjust="spacingAndGlyphs" stroke="#333" stroke-width="0.2">8. 00</text>
<text x="514.76" y="484.7" font-family='"Liberation Serif", serif' font-size="7.6" fill="#333" textLength="13.5" lengthAdjust="spacingAndGlyphs" stroke="#333" stroke-width="0.2">10. 00</text>
<text x="531.73" y="484.7" font-family='"Liberation Serif", serif' font-size="7.6" fill="#333" textLength="13.5" lengthAdjust="spacingAndGlyphs" stroke="#333" stroke-width="0.2">12. 00</text>
<text x="548.7" y="484.7" font-family='"Liberation Serif", serif' font-size="7.6" fill="#333" textLength="13.5" lengthAdjust="spacingAndGlyphs" stroke="#333" stroke-width="0.2">14. 00</text>
<text x="565.67" y="484.7" font-family='"Liberation Serif", serif' font-size="7.6" fill="#333" textLength="13.5" lengthAdjust="spacingAndGlyphs" stroke="#333" stroke-width="0.2">16. 00</text>
<text x="582.64" y="484.7" font-family='"Liberation Serif", serif' font-size="7.6" fill="#333" textLength="13.5" lengthAdjust="spacingAndGlyphs" stroke="#333" stroke-width="0.2">18. 00</text>
<text x="599.61" y="484.7" font-family='"Liberation Serif", serif' font-size="7.6" fill="#333" textLength="13.5" lengthAdjust="spacingAndGlyphs" stroke="#333" stroke-width="0.2">20. 00</text>
<text x="616.58" y="484.7" font-family='"Liberation Serif", serif' font-size="7.6" fill="#333" textLength="13.5" lengthAdjust="spacingAndGlyphs" stroke="#333" stroke-width="0.2">22. 00</text>
<text x="633.55" y="484.7" font-family='"Liberation Serif", serif' font-size="7.6" fill="#333" textLength="13.5" lengthAdjust="spacingAndGlyphs" stroke="#333" stroke-width="0.2">24. 00</text>
<text x="650.52" y="484.7" font-family='"Liberation Serif", serif' font-size="7.6" fill="#333" textLength="13.5" lengthAdjust="spacingAndGlyphs" stroke="#333" stroke-width="0.2">26. 00</text>
<text x="667.49" y="484.7" font-family='"Liberation Serif", serif' font-size="7.6" fill="#333" textLength="13.5" lengthAdjust="spacingAndGlyphs" stroke="#333" stroke-width="0.2">28. 00</text>
<text x="459.41" y="475.68" font-family='"Liberation Serif", serif' font-size="7.6" fill="#484848" textLength="1.89" lengthAdjust="spacingAndGlyphs" stroke="#484848" stroke-width="0.1">0</text>
<text x="451.85" y="451.73" font-family='"Liberation Serif", serif' font-size="7.6" fill="#484848" textLength="9.45" lengthAdjust="spacingAndGlyphs" stroke="#484848" stroke-width="0.1">2e+07</text>
<text x="451.85" y="427.78" font-family='"Liberation Serif", serif' font-size="7.6" fill="#484848" textLength="9.45" lengthAdjust="spacingAndGlyphs" stroke="#484848" stroke-width="0.1">4e+07</text>
<text x="451.85" y="403.83" font-family='"Liberation Serif", serif' font-size="7.6" fill="#484848" textLength="9.45" lengthAdjust="spacingAndGlyphs" stroke="#484848" stroke-width="0.1">6e+07</text>
<text x="451.85" y="379.88" font-family='"Liberation Serif", serif' font-size="7.6" fill="#484848" textLength="9.45" lengthAdjust="spacingAndGlyphs" stroke="#484848" stroke-width="0.1">8e+07</text>
<text x="451.85" y="355.93" font-family='"Liberation Serif", serif' font-size="7.6" fill="#484848" textLength="9.45" lengthAdjust="spacingAndGlyphs" stroke="#484848" stroke-width="0.1">1e+08</text>
<text x="448.07" y="331.98" font-family='"Liberation Serif", serif' font-size="7.6" fill="#484848" textLength="13.23" lengthAdjust="spacingAndGlyphs" stroke="#484848" stroke-width="0.1">1. 2e+08</text>
<defs><linearGradient id="hg" gradientUnits="userSpaceOnUse" x1="0" y1="328" x2="0" y2="473"><stop offset="0" stop-color="#777"/><stop offset="0.35" stop-color="#555"/><stop offset="1" stop-color="#303030"/></linearGradient></defs>
<path d="M481.1 473.4 L481.5 336 L482.0 331.8 L482.7 337 L483.1 346 L483.6 473.4" fill="#fff" stroke="url(#hg)" stroke-width="0.7"/>
<path d="M481.9 332.2 L482.3 338.5" fill="none" stroke="#333" stroke-width="1"/>
<path d="M503.4 473.4 L503.9 332 L504.4 325.2 L505.6 328 L506.3 330 L506.5 473.4" fill="#fff" stroke="url(#hg)" stroke-width="0.7"/>
<path d="M504.3 325.6 L505.2 330.5" fill="none" stroke="#333" stroke-width="1.2"/>
<path d="M507.8 473.4 L508.4 455 L508.9 470 L510 472.6 L514 473" fill="none" stroke="#222" stroke-width="0.8"/>
<path d="M493 473 L496 472.6 L498 472.8 L500 472.4 L503 472.9" fill="none" stroke="#333" stroke-width="0.5"/>
<line x1="481.4" y1="323.8" x2="515.08" y2="283.57" stroke="#111" stroke-width="0.68"/>
<polygon points="517.9,280.2 516.07,286.75 514.75,283.96 511.77,283.16" fill="#000"/>
<line x1="506.7" y1="317.7" x2="554.86" y2="296.94" stroke="#111" stroke-width="0.68"/>
<polygon points="558.9,295.2 554.31,300.23 554.4,297.14 552.1,295.08" fill="#000"/>
<text x="519.9" y="279.6" font-family='"Liberation Serif", serif' font-size="11.2" fill="#000" font-weight="bold" stroke="#000" stroke-width="0.29" textLength="38.3" lengthAdjust="spacingAndGlyphs">1,8-cineole</text>
<text x="562.8" y="297.7" font-family='"Liberation Serif", serif' font-size="11.2" fill="#000" font-weight="bold" stroke="#000" stroke-width="0.29" textLength="54.6" lengthAdjust="spacingAndGlyphs">D (+)-camphor</text>
<text x="520.5" y="415.7" font-family='"Liberation Serif", serif' font-size="11.2" fill="#000" font-weight="bold" stroke="#000" stroke-width="0.29" textLength="133.7" lengthAdjust="spacingAndGlyphs">Tablets 12 months after preparation</text>
<rect x="517.5" y="421.3" width="61.4" height="39.9" fill="none" stroke="#000" stroke-width="1"/>
<rect x="593.5" y="421.3" width="61.1" height="39.9" fill="none" stroke="#000" stroke-width="1"/>
<text x="524" y="433.5" font-family='"Liberation Serif", serif' font-size="8.8" fill="#000" font-weight="bold" stroke="#000" stroke-width="0.13" textLength="31.3" lengthAdjust="spacingAndGlyphs">1,8-cineole</text>
<text x="524" y="444.2" font-family='"Liberation Serif", serif' font-size="8.8" fill="#000" font-weight="bold" stroke="#000" stroke-width="0.13" textLength="25.9" lengthAdjust="spacingAndGlyphs">RT: 6.53</text>
<text x="524" y="454.7" font-family='"Liberation Serif", serif' font-size="8.8" fill="#000" font-weight="bold" stroke="#000" stroke-width="0.13" textLength="43.5" lengthAdjust="spacingAndGlyphs">Peak %: 14.79</text>
<text x="600" y="433.5" font-family='"Liberation Serif", serif' font-size="8.8" fill="#000" font-weight="bold" stroke="#000" stroke-width="0.13" textLength="31.3" lengthAdjust="spacingAndGlyphs">1,8-cineole</text>
<text x="600" y="444.2" font-family='"Liberation Serif", serif' font-size="8.8" fill="#000" font-weight="bold" stroke="#000" stroke-width="0.13" textLength="25.9" lengthAdjust="spacingAndGlyphs">RT: 8.58</text>
<text x="600" y="454.7" font-family='"Liberation Serif", serif' font-size="8.8" fill="#000" font-weight="bold" stroke="#000" stroke-width="0.13" textLength="43.5" lengthAdjust="spacingAndGlyphs">Peak %: 34.99</text>
<text x="14.2" y="216.6" font-family='"Liberation Serif", serif' font-size="10.6" fill="#000" font-weight="bold" stroke="#000" stroke-width="0.25" textLength="6.1" lengthAdjust="spacingAndGlyphs">D</text>
<line x1="24.3" y1="338.2" x2="24.3" y2="217.2" stroke="#949494" stroke-width="1.5" stroke-dasharray="0.62 0.6"/>
<text x="16.94" y="230.9" font-family='"Liberation Mono", monospace' font-size="5.7" fill="#50505e" textLength="6.66" lengthAdjust="spacingAndGlyphs">9000</text>
<text x="16.94" y="243.05" font-family='"Liberation Mono", monospace' font-size="5.7" fill="#50505e" textLength="6.66" lengthAdjust="spacingAndGlyphs">8000</text>
<text x="16.94" y="255.2" font-family='"Liberation Mono", monospace' font-size="5.7" fill="#50505e" textLength="6.66" lengthAdjust="spacingAndGlyphs">7000</text>
<text x="16.94" y="267.35" font-family='"Liberation Mono", monospace' font-size="5.7" fill="#50505e" textLength="6.66" lengthAdjust="spacingAndGlyphs">6000</text>
<text x="16.94" y="279.5" font-family='"Liberation Mono", monospace' font-size="5.7" fill="#50505e" textLength="6.66" lengthAdjust="spacingAndGlyphs">5000</text>
<text x="16.94" y="291.65" font-family='"Liberation Mono", monospace' font-size="5.7" fill="#50505e" textLength="6.66" lengthAdjust="spacingAndGlyphs">4000</text>
<text x="16.94" y="303.8" font-family='"Liberation Mono", monospace' font-size="5.7" fill="#50505e" textLength="6.66" lengthAdjust="spacingAndGlyphs">3000</text>
<text x="16.94" y="315.95" font-family='"Liberation Mono", monospace' font-size="5.7" fill="#50505e" textLength="6.66" lengthAdjust="spacingAndGlyphs">2000</text>
<text x="16.94" y="328.1" font-family='"Liberation Mono", monospace' font-size="5.7" fill="#50505e" textLength="6.66" lengthAdjust="spacingAndGlyphs">1000</text>
<line x1="23.3" y1="338.2" x2="215.5" y2="338.2" stroke="#6a6a6a" stroke-width="0.75"/>
<path d="M27.5 338.2L27.5 340.4M30.82 338.2L30.82 339.3M34.13 338.2L34.13 340.4M37.45 338.2L37.45 339.3M40.76 338.2L40.76 340.4M44.07 338.2L44.07 339.3M47.39 338.2L47.39 340.4M50.7 338.2L50.7 339.3M54.02 338.2L54.02 340.4M57.33 338.2L57.33 339.3M60.65 338.2L60.65 340.4M63.96 338.2L63.96 339.3M67.28 338.2L67.28 340.4M70.59 338.2L70.59 339.3M73.91 338.2L73.91 340.4M77.22 338.2L77.22 339.3M80.54 338.2L80.54 340.4M83.85 338.2L83.85 339.3M87.17 338.2L87.17 340.4M90.48 338.2L90.48 339.3M93.8 338.2L93.8 340.4M97.11 338.2L97.11 339.3M100.43 338.2L100.43 340.4M103.74 338.2L103.74 339.3M107.06 338.2L107.06 340.4M110.37 338.2L110.37 339.3M113.69 338.2L113.69 340.4M117 338.2L117 339.3M120.32 338.2L120.32 340.4M123.63 338.2L123.63 339.3M126.95 338.2L126.95 340.4M130.26 338.2L130.26 339.3M133.58 338.2L133.58 340.4M136.89 338.2L136.89 339.3M140.21 338.2L140.21 340.4M143.52 338.2L143.52 339.3M146.84 338.2L146.84 340.4M150.15 338.2L150.15 339.3M153.47 338.2L153.47 340.4M156.78 338.2L156.78 339.3M160.1 338.2L160.1 340.4M163.41 338.2L163.41 339.3M166.73 338.2L166.73 340.4M170.04 338.2L170.04 339.3M173.36 338.2L173.36 340.4M176.67 338.2L176.67 339.3M179.99 338.2L179.99 340.4M183.3 338.2L183.3 339.3M186.62 338.2L186.62 340.4M189.93 338.2L189.93 339.3M193.25 338.2L193.25 340.4M196.56 338.2L196.56 339.3M199.88 338.2L199.88 340.4M203.19 338.2L203.19 339.3M206.51 338.2L206.51 340.4M209.82 338.2L209.82 339.3M213.14 338.2L213.14 340.4" fill="none" stroke="#6a6a6a" stroke-width="0.55"/>
<text x="25.75" y="344.2" font-family='"Liberation Mono", monospace' font-size="5.4" fill="#52525e" textLength="3.5" lengthAdjust="spacingAndGlyphs">10</text>
<text x="32.38" y="344.2" font-family='"Liberation Mono", monospace' font-size="5.4" fill="#52525e" textLength="3.5" lengthAdjust="spacingAndGlyphs">20</text>
<text x="39.01" y="344.2" font-family='"Liberation Mono", monospace' font-size="5.4" fill="#52525e" textLength="3.5" lengthAdjust="spacingAndGlyphs">30</text>
<text x="45.64" y="344.2" font-family='"Liberation Mono", monospace' font-size="5.4" fill="#52525e" textLength="3.5" lengthAdjust="spacingAndGlyphs">40</text>
<text x="52.27" y="344.2" font-family='"Liberation Mono", monospace' font-size="5.4" fill="#52525e" textLength="3.5" lengthAdjust="spacingAndGlyphs">50</text>
<text x="58.9" y="344.2" font-family='"Liberation Mono", monospace' font-size="5.4" fill="#52525e" textLength="3.5" lengthAdjust="spacingAndGlyphs">60</text>
<text x="65.53" y="344.2" font-family='"Liberation Mono", monospace' font-size="5.4" fill="#52525e" textLength="3.5" lengthAdjust="spacingAndGlyphs">70</text>
<text x="72.16" y="344.2" font-family='"Liberation Mono", monospace' font-size="5.4" fill="#52525e" textLength="3.5" lengthAdjust="spacingAndGlyphs">80</text>
<text x="78.79" y="344.2" font-family='"Liberation Mono", monospace' font-size="5.4" fill="#52525e" textLength="3.5" lengthAdjust="spacingAndGlyphs">90</text>
<text x="84.55" y="344.2" font-family='"Liberation Mono", monospace' font-size="5.4" fill="#52525e" textLength="5.25" lengthAdjust="spacingAndGlyphs">100</text>
<text x="91.17" y="344.2" font-family='"Liberation Mono", monospace' font-size="5.4" fill="#52525e" textLength="5.25" lengthAdjust="spacingAndGlyphs">110</text>
<text x="97.81" y="344.2" font-family='"Liberation Mono", monospace' font-size="5.4" fill="#52525e" textLength="5.25" lengthAdjust="spacingAndGlyphs">120</text>
<text x="104.44" y="344.2" font-family='"Liberation Mono", monospace' font-size="5.4" fill="#52525e" textLength="5.25" lengthAdjust="spacingAndGlyphs">130</text>
<text x="111.06" y="344.2" font-family='"Liberation Mono", monospace' font-size="5.4" fill="#52525e" textLength="5.25" lengthAdjust="spacingAndGlyphs">140</text>
<text x="117.7" y="344.2" font-family='"Liberation Mono", monospace' font-size="5.4" fill="#52525e" textLength="5.25" lengthAdjust="spacingAndGlyphs">150</text>
<text x="124.33" y="344.2" font-family='"Liberation Mono", monospace' font-size="5.4" fill="#52525e" textLength="5.25" lengthAdjust="spacingAndGlyphs">160</text>
<text x="130.96" y="344.2" font-family='"Liberation Mono", monospace' font-size="5.4" fill="#52525e" textLength="5.25" lengthAdjust="spacingAndGlyphs">170</text>
<text x="137.59" y="344.2" font-family='"Liberation Mono", monospace' font-size="5.4" fill="#52525e" textLength="5.25" lengthAdjust="spacingAndGlyphs">180</text>
<text x="144.22" y="344.2" font-family='"Liberation Mono", monospace' font-size="5.4" fill="#52525e" textLength="5.25" lengthAdjust="spacingAndGlyphs">190</text>
<text x="150.85" y="344.2" font-family='"Liberation Mono", monospace' font-size="5.4" fill="#52525e" textLength="5.25" lengthAdjust="spacingAndGlyphs">200</text>
<text x="157.47" y="344.2" font-family='"Liberation Mono", monospace' font-size="5.4" fill="#52525e" textLength="5.25" lengthAdjust="spacingAndGlyphs">210</text>
<text x="164.11" y="344.2" font-family='"Liberation Mono", monospace' font-size="5.4" fill="#52525e" textLength="5.25" lengthAdjust="spacingAndGlyphs">220</text>
<text x="170.74" y="344.2" font-family='"Liberation Mono", monospace' font-size="5.4" fill="#52525e" textLength="5.25" lengthAdjust="spacingAndGlyphs">230</text>
<text x="177.37" y="344.2" font-family='"Liberation Mono", monospace' font-size="5.4" fill="#52525e" textLength="5.25" lengthAdjust="spacingAndGlyphs">240</text>
<text x="184" y="344.2" font-family='"Liberation Mono", monospace' font-size="5.4" fill="#52525e" textLength="5.25" lengthAdjust="spacingAndGlyphs">250</text>
<text x="190.62" y="344.2" font-family='"Liberation Mono", monospace' font-size="5.4" fill="#52525e" textLength="5.25" lengthAdjust="spacingAndGlyphs">260</text>
<text x="197.25" y="344.2" font-family='"Liberation Mono", monospace' font-size="5.4" fill="#52525e" textLength="5.25" lengthAdjust="spacingAndGlyphs">270</text>
<text x="203.89" y="344.2" font-family='"Liberation Mono", monospace' font-size="5.4" fill="#52525e" textLength="5.25" lengthAdjust="spacingAndGlyphs">280</text>
<line x1="46.4" y1="338.2" x2="46.4" y2="310.5" stroke="#8a8a8a" stroke-width="0.72"/>
<line x1="47.8" y1="338.2" x2="47.8" y2="296.3" stroke="#b6b6b6" stroke-width="1.08"/>
<line x1="48.6" y1="338.2" x2="48.6" y2="329.7" stroke="#505050" stroke-width="0.72"/>
<line x1="49.2" y1="338.2" x2="49.2" y2="225.3" stroke="#8a8a8a" stroke-width="0.81"/>
<line x1="50.2" y1="338.2" x2="50.2" y2="335" stroke="#505050" stroke-width="0.72"/>
<line x1="54.7" y1="338.2" x2="54.7" y2="332.8" stroke="#505050" stroke-width="0.72"/>
<line x1="55.7" y1="338.2" x2="55.7" y2="317" stroke="#b6b6b6" stroke-width="0.9"/>
<line x1="57.3" y1="338.2" x2="57.3" y2="287.2" stroke="#505050" stroke-width="0.81"/>
<line x1="58.1" y1="338.2" x2="58.1" y2="326.7" stroke="#505050" stroke-width="0.72"/>
<line x1="59.7" y1="338.2" x2="59.7" y2="317" stroke="#b6b6b6" stroke-width="0.9"/>
<line x1="60.7" y1="338.2" x2="60.7" y2="334.5" stroke="#8a8a8a" stroke-width="0.72"/>
<line x1="63.2" y1="338.2" x2="63.2" y2="335.5" stroke="#8a8a8a" stroke-width="0.72"/>
<line x1="65.4" y1="338.2" x2="65.4" y2="294.3" stroke="#505050" stroke-width="0.81"/>
<line x1="66.2" y1="338.2" x2="66.2" y2="266.8" stroke="#8a8a8a" stroke-width="0.9"/>
<line x1="67.9" y1="338.2" x2="67.9" y2="254.7" stroke="#b6b6b6" stroke-width="1.44"/>
<line x1="72.3" y1="338.2" x2="72.3" y2="322.2" stroke="#b6b6b6" stroke-width="0.72"/>
<line x1="73.5" y1="338.2" x2="73.5" y2="316.2" stroke="#8a8a8a" stroke-width="0.72"/>
<line x1="74.3" y1="338.2" x2="74.3" y2="217.8" stroke="#505050" stroke-width="0.81"/>
<line x1="75.3" y1="338.2" x2="75.3" y2="319.6" stroke="#8a8a8a" stroke-width="0.72"/>
<line x1="76.5" y1="338.2" x2="76.5" y2="250" stroke="#b6b6b6" stroke-width="0.99"/>
<line x1="77.5" y1="338.2" x2="77.5" y2="329.3" stroke="#505050" stroke-width="0.72"/>
<line x1="81.2" y1="338.2" x2="81.2" y2="328.7" stroke="#8a8a8a" stroke-width="0.72"/>
<line x1="82.2" y1="338.2" x2="82.2" y2="254.7" stroke="#505050" stroke-width="0.81"/>
<line x1="84.4" y1="338.2" x2="84.4" y2="281" stroke="#505050" stroke-width="1.17"/>
<line x1="85.4" y1="338.2" x2="85.4" y2="318.6" stroke="#b6b6b6" stroke-width="0.72"/>
<line x1="86.6" y1="338.2" x2="86.6" y2="333.8" stroke="#b6b6b6" stroke-width="0.72"/>
<line x1="92.1" y1="338.2" x2="92.1" y2="324.7" stroke="#8a8a8a" stroke-width="0.72"/>
<line x1="92.7" y1="338.2" x2="92.7" y2="217.8" stroke="#b6b6b6" stroke-width="0.9"/>
<line x1="93.5" y1="338.2" x2="93.5" y2="322.2" stroke="#8a8a8a" stroke-width="0.72"/>
<line x1="94.3" y1="338.2" x2="94.3" y2="232.4" stroke="#505050" stroke-width="0.81"/>
<line x1="101.4" y1="338.2" x2="101.4" y2="322" stroke="#505050" stroke-width="0.72"/>
<line x1="103.8" y1="338.2" x2="103.8" y2="318" stroke="#b6b6b6" stroke-width="0.9"/>
<line x1="104.5" y1="338.2" x2="104.5" y2="324.3" stroke="#505050" stroke-width="0.72"/>
<line x1="111.5" y1="338.2" x2="111.5" y2="321" stroke="#505050" stroke-width="0.72"/>
<line x1="113.4" y1="338.2" x2="113.4" y2="247" stroke="#505050" stroke-width="0.81"/>
<line x1="114.5" y1="338.2" x2="114.5" y2="330" stroke="#b6b6b6" stroke-width="0.72"/>
<line x1="123.6" y1="338.2" x2="123.6" y2="233" stroke="#505050" stroke-width="0.81"/>
<line x1="124.8" y1="338.2" x2="124.8" y2="325.3" stroke="#505050" stroke-width="0.72"/>
<text x="46.1" y="225" font-family='"Liberation Mono", monospace' font-size="5" fill="#6464f5" textLength="6.2" lengthAdjust="spacingAndGlyphs">41.1</text>
<text x="71.4" y="219.8" font-family='"Liberation Mono", monospace' font-size="5" fill="#6464f5" textLength="6.2" lengthAdjust="spacingAndGlyphs">81.1</text>
<text x="88.72" y="219.8" font-family='"Liberation Mono", monospace' font-size="5" fill="#6464f5" textLength="7.75" lengthAdjust="spacingAndGlyphs">108.1</text>
<text x="53.9" y="286.3" font-family='"Liberation Mono", monospace' font-size="5" fill="#6464f5" textLength="6.2" lengthAdjust="spacingAndGlyphs">55.1</text>
<text x="63.5" y="266.6" font-family='"Liberation Mono", monospace' font-size="5" fill="#6464f5" textLength="6.2" lengthAdjust="spacingAndGlyphs">69.1</text>
<text x="80.1" y="253.2" font-family='"Liberation Mono", monospace' font-size="5" fill="#6464f5" textLength="6.2" lengthAdjust="spacingAndGlyphs">93.1</text>
<text x="109.62" y="245.5" font-family='"Liberation Mono", monospace' font-size="5" fill="#6464f5" textLength="7.75" lengthAdjust="spacingAndGlyphs">139.1</text>
<text x="120.03" y="231.5" font-family='"Liberation Mono", monospace' font-size="5" fill="#6464f5" textLength="7.75" lengthAdjust="spacingAndGlyphs">154.1</text>
<text x="100.33" y="316.8" font-family='"Liberation Mono", monospace' font-size="5" fill="#6464f5" textLength="7.75" lengthAdjust="spacingAndGlyphs">121.1</text>
<text x="128.35" y="337.6" font-family='"Liberation Mono", monospace' font-size="5" fill="#6a6aff" textLength="14.5" lengthAdjust="spacingAndGlyphs">155.0175.1</text>
<text x="146.8" y="337.6" font-family='"Liberation Mono", monospace' font-size="5" fill="#6a6aff" textLength="5.8" lengthAdjust="spacingAndGlyphs">13.1</text>
<text x="156.38" y="337.6" font-family='"Liberation Mono", monospace' font-size="5" fill="#6a6aff" textLength="7.25" lengthAdjust="spacingAndGlyphs">206.0</text>
<text x="193.78" y="337.6" font-family='"Liberation Mono", monospace' font-size="5" fill="#6a6aff" textLength="7.25" lengthAdjust="spacingAndGlyphs">265.0</text>
<text x="204.88" y="337.6" font-family='"Liberation Mono", monospace' font-size="5" fill="#6a6aff" textLength="7.25" lengthAdjust="spacingAndGlyphs">281.1</text>
<text x="14.6" y="355.7" font-family='"Liberation Serif", serif' font-size="10.6" fill="#000" font-weight="bold" stroke="#000" stroke-width="0.25" textLength="5.2" lengthAdjust="spacingAndGlyphs">F</text>
<line x1="24.7" y1="473.4" x2="24.7" y2="352" stroke="#c0c0c0" stroke-width="1.3" stroke-dasharray="0.62 0.6"/>
<text x="17.14" y="365.8" font-family='"Liberation Mono", monospace' font-size="5.7" fill="#7c7c88" textLength="6.66" lengthAdjust="spacingAndGlyphs">9000</text>
<text x="17.14" y="377.95" font-family='"Liberation Mono", monospace' font-size="5.7" fill="#7c7c88" textLength="6.66" lengthAdjust="spacingAndGlyphs">8000</text>
<text x="17.14" y="390.1" font-family='"Liberation Mono", monospace' font-size="5.7" fill="#7c7c88" textLength="6.66" lengthAdjust="spacingAndGlyphs">7000</text>
<text x="17.14" y="402.25" font-family='"Liberation Mono", monospace' font-size="5.7" fill="#7c7c88" textLength="6.66" lengthAdjust="spacingAndGlyphs">6000</text>
<text x="17.14" y="414.4" font-family='"Liberation Mono", monospace' font-size="5.7" fill="#7c7c88" textLength="6.66" lengthAdjust="spacingAndGlyphs">5000</text>
<text x="17.14" y="426.55" font-family='"Liberation Mono", monospace' font-size="5.7" fill="#7c7c88" textLength="6.66" lengthAdjust="spacingAndGlyphs">4000</text>
<text x="17.14" y="438.7" font-family='"Liberation Mono", monospace' font-size="5.7" fill="#7c7c88" textLength="6.66" lengthAdjust="spacingAndGlyphs">3000</text>
<text x="17.14" y="450.85" font-family='"Liberation Mono", monospace' font-size="5.7" fill="#7c7c88" textLength="6.66" lengthAdjust="spacingAndGlyphs">2000</text>
<text x="17.14" y="463" font-family='"Liberation Mono", monospace' font-size="5.7" fill="#7c7c88" textLength="6.66" lengthAdjust="spacingAndGlyphs">1000</text>
<line x1="23.7" y1="473.4" x2="215.5" y2="473.4" stroke="#9a9a9a" stroke-width="0.75"/>
<path d="M27.5 473.4L27.5 475.6M30.82 473.4L30.82 474.5M34.13 473.4L34.13 475.6M37.45 473.4L37.45 474.5M40.76 473.4L40.76 475.6M44.07 473.4L44.07 474.5M47.39 473.4L47.39 475.6M50.7 473.4L50.7 474.5M54.02 473.4L54.02 475.6M57.33 473.4L57.33 474.5M60.65 473.4L60.65 475.6M63.96 473.4L63.96 474.5M67.28 473.4L67.28 475.6M70.59 473.4L70.59 474.5M73.91 473.4L73.91 475.6M77.22 473.4L77.22 474.5M80.54 473.4L80.54 475.6M83.85 473.4L83.85 474.5M87.17 473.4L87.17 475.6M90.48 473.4L90.48 474.5M93.8 473.4L93.8 475.6M97.11 473.4L97.11 474.5M100.43 473.4L100.43 475.6M103.74 473.4L103.74 474.5M107.06 473.4L107.06 475.6M110.37 473.4L110.37 474.5M113.69 473.4L113.69 475.6M117 473.4L117 474.5M120.32 473.4L120.32 475.6M123.63 473.4L123.63 474.5M126.95 473.4L126.95 475.6M130.26 473.4L130.26 474.5M133.58 473.4L133.58 475.6M136.89 473.4L136.89 474.5M140.21 473.4L140.21 475.6M143.52 473.4L143.52 474.5M146.84 473.4L146.84 475.6M150.15 473.4L150.15 474.5M153.47 473.4L153.47 475.6M156.78 473.4L156.78 474.5M160.1 473.4L160.1 475.6M163.41 473.4L163.41 474.5M166.73 473.4L166.73 475.6M170.04 473.4L170.04 474.5M173.36 473.4L173.36 475.6M176.67 473.4L176.67 474.5M179.99 473.4L179.99 475.6M183.3 473.4L183.3 474.5M186.62 473.4L186.62 475.6M189.93 473.4L189.93 474.5M193.25 473.4L193.25 475.6M196.56 473.4L196.56 474.5M199.88 473.4L199.88 475.6M203.19 473.4L203.19 474.5M206.51 473.4L206.51 475.6M209.82 473.4L209.82 474.5M213.14 473.4L213.14 475.6" fill="none" stroke="#9a9a9a" stroke-width="0.55"/>
<text x="25.75" y="479.3" font-family='"Liberation Mono", monospace' font-size="5.4" fill="#52525e" textLength="3.5" lengthAdjust="spacingAndGlyphs">10</text>
<text x="32.38" y="479.3" font-family='"Liberation Mono", monospace' font-size="5.4" fill="#52525e" textLength="3.5" lengthAdjust="spacingAndGlyphs">20</text>
<text x="39.01" y="479.3" font-family='"Liberation Mono", monospace' font-size="5.4" fill="#52525e" textLength="3.5" lengthAdjust="spacingAndGlyphs">30</text>
<text x="45.64" y="479.3" font-family='"Liberation Mono", monospace' font-size="5.4" fill="#52525e" textLength="3.5" lengthAdjust="spacingAndGlyphs">40</text>
<text x="52.27" y="479.3" font-family='"Liberation Mono", monospace' font-size="5.4" fill="#52525e" textLength="3.5" lengthAdjust="spacingAndGlyphs">50</text>
<text x="58.9" y="479.3" font-family='"Liberation Mono", monospace' font-size="5.4" fill="#52525e" textLength="3.5" lengthAdjust="spacingAndGlyphs">60</text>
<text x="65.53" y="479.3" font-family='"Liberation Mono", monospace' font-size="5.4" fill="#52525e" textLength="3.5" lengthAdjust="spacingAndGlyphs">70</text>
<text x="72.16" y="479.3" font-family='"Liberation Mono", monospace' font-size="5.4" fill="#52525e" textLength="3.5" lengthAdjust="spacingAndGlyphs">80</text>
<text x="78.79" y="479.3" font-family='"Liberation Mono", monospace' font-size="5.4" fill="#52525e" textLength="3.5" lengthAdjust="spacingAndGlyphs">90</text>
<text x="84.55" y="479.3" font-family='"Liberation Mono", monospace' font-size="5.4" fill="#52525e" textLength="5.25" lengthAdjust="spacingAndGlyphs">100</text>
<text x="91.17" y="479.3" font-family='"Liberation Mono", monospace' font-size="5.4" fill="#52525e" textLength="5.25" lengthAdjust="spacingAndGlyphs">110</text>
<text x="97.81" y="479.3" font-family='"Liberation Mono", monospace' font-size="5.4" fill="#52525e" textLength="5.25" lengthAdjust="spacingAndGlyphs">120</text>
<text x="104.44" y="479.3" font-family='"Liberation Mono", monospace' font-size="5.4" fill="#52525e" textLength="5.25" lengthAdjust="spacingAndGlyphs">130</text>
<text x="111.06" y="479.3" font-family='"Liberation Mono", monospace' font-size="5.4" fill="#52525e" textLength="5.25" lengthAdjust="spacingAndGlyphs">140</text>
<text x="117.7" y="479.3" font-family='"Liberation Mono", monospace' font-size="5.4" fill="#52525e" textLength="5.25" lengthAdjust="spacingAndGlyphs">150</text>
<text x="124.33" y="479.3" font-family='"Liberation Mono", monospace' font-size="5.4" fill="#52525e" textLength="5.25" lengthAdjust="spacingAndGlyphs">160</text>
<text x="130.96" y="479.3" font-family='"Liberation Mono", monospace' font-size="5.4" fill="#52525e" textLength="5.25" lengthAdjust="spacingAndGlyphs">170</text>
<text x="137.59" y="479.3" font-family='"Liberation Mono", monospace' font-size="5.4" fill="#52525e" textLength="5.25" lengthAdjust="spacingAndGlyphs">180</text>
<text x="144.22" y="479.3" font-family='"Liberation Mono", monospace' font-size="5.4" fill="#52525e" textLength="5.25" lengthAdjust="spacingAndGlyphs">190</text>
<text x="150.85" y="479.3" font-family='"Liberation Mono", monospace' font-size="5.4" fill="#52525e" textLength="5.25" lengthAdjust="spacingAndGlyphs">200</text>
<text x="157.47" y="479.3" font-family='"Liberation Mono", monospace' font-size="5.4" fill="#52525e" textLength="5.25" lengthAdjust="spacingAndGlyphs">210</text>
<text x="164.11" y="479.3" font-family='"Liberation Mono", monospace' font-size="5.4" fill="#52525e" textLength="5.25" lengthAdjust="spacingAndGlyphs">220</text>
<text x="170.74" y="479.3" font-family='"Liberation Mono", monospace' font-size="5.4" fill="#52525e" textLength="5.25" lengthAdjust="spacingAndGlyphs">230</text>
<text x="177.37" y="479.3" font-family='"Liberation Mono", monospace' font-size="5.4" fill="#52525e" textLength="5.25" lengthAdjust="spacingAndGlyphs">240</text>
<text x="184" y="479.3" font-family='"Liberation Mono", monospace' font-size="5.4" fill="#52525e" textLength="5.25" lengthAdjust="spacingAndGlyphs">250</text>
<text x="190.62" y="479.3" font-family='"Liberation Mono", monospace' font-size="5.4" fill="#52525e" textLength="5.25" lengthAdjust="spacingAndGlyphs">260</text>
<text x="197.25" y="479.3" font-family='"Liberation Mono", monospace' font-size="5.4" fill="#52525e" textLength="5.25" lengthAdjust="spacingAndGlyphs">270</text>
<text x="203.89" y="479.3" font-family='"Liberation Mono", monospace' font-size="5.4" fill="#52525e" textLength="5.25" lengthAdjust="spacingAndGlyphs">280</text>
<line x1="30.8" y1="473.4" x2="30.8" y2="471" stroke="#9898ff" stroke-width="0.64"/>
<line x1="38.5" y1="473.4" x2="38.5" y2="463" stroke="#e0e0ff" stroke-width="0.64"/>
<line x1="39.7" y1="473.4" x2="39.7" y2="462.8" stroke="#e0e0ff" stroke-width="0.8"/>
<line x1="40.6" y1="473.4" x2="40.6" y2="464" stroke="#e0e0ff" stroke-width="0.64"/>
<line x1="46.4" y1="473.4" x2="46.4" y2="448.3" stroke="#c0c0ff" stroke-width="0.64"/>
<line x1="48" y1="473.4" x2="48" y2="432" stroke="#e0e0ff" stroke-width="1.04"/>
<line x1="47.4" y1="473.4" x2="47.4" y2="469.3" stroke="#7070ff" stroke-width="0.64"/>
<line x1="48.6" y1="473.4" x2="48.6" y2="467.9" stroke="#7070ff" stroke-width="0.64"/>
<line x1="49.4" y1="473.4" x2="49.4" y2="352.5" stroke="#7070ff" stroke-width="0.72"/>
<line x1="50.4" y1="473.4" x2="50.4" y2="470.5" stroke="#7070ff" stroke-width="0.64"/>
<line x1="54.7" y1="473.4" x2="54.7" y2="468.5" stroke="#7070ff" stroke-width="0.64"/>
<line x1="55.9" y1="473.4" x2="55.9" y2="455.7" stroke="#e0e0ff" stroke-width="0.8"/>
<line x1="56.7" y1="473.4" x2="56.7" y2="461.8" stroke="#9898ff" stroke-width="0.64"/>
<line x1="57.3" y1="473.4" x2="57.3" y2="424.6" stroke="#7070ff" stroke-width="0.72"/>
<line x1="58.1" y1="473.4" x2="58.1" y2="461.8" stroke="#9898ff" stroke-width="0.64"/>
<line x1="59.5" y1="473.4" x2="59.5" y2="454.1" stroke="#7070ff" stroke-width="1.04"/>
<line x1="60.5" y1="473.4" x2="60.5" y2="462" stroke="#e0e0ff" stroke-width="0.64"/>
<line x1="63.4" y1="473.4" x2="63.4" y2="467.9" stroke="#c0c0ff" stroke-width="0.64"/>
<line x1="64.4" y1="473.4" x2="64.4" y2="470.5" stroke="#7070ff" stroke-width="0.64"/>
<line x1="65.4" y1="473.4" x2="65.4" y2="444.6" stroke="#c0c0ff" stroke-width="0.64"/>
<line x1="66.4" y1="473.4" x2="66.4" y2="423" stroke="#7070ff" stroke-width="0.72"/>
<line x1="68" y1="473.4" x2="68" y2="413.5" stroke="#e0e0ff" stroke-width="1.36"/>
<line x1="67.6" y1="473.4" x2="67.6" y2="470" stroke="#7070ff" stroke-width="0.64"/>
<line x1="72" y1="473.4" x2="72" y2="463.8" stroke="#c0c0ff" stroke-width="0.64"/>
<line x1="73.5" y1="473.4" x2="73.5" y2="460.8" stroke="#c0c0ff" stroke-width="0.64"/>
<line x1="74.5" y1="473.4" x2="74.5" y2="393.6" stroke="#7070ff" stroke-width="0.72"/>
<line x1="75.4" y1="473.4" x2="75.4" y2="462" stroke="#c0c0ff" stroke-width="0.64"/>
<line x1="76.5" y1="473.4" x2="76.5" y2="418" stroke="#9898ff" stroke-width="0.88"/>
<line x1="76.5" y1="473.4" x2="76.5" y2="443.6" stroke="#7070ff" stroke-width="0.88"/>
<line x1="81.2" y1="473.4" x2="81.2" y2="469" stroke="#7070ff" stroke-width="0.64"/>
<line x1="82.2" y1="473.4" x2="82.2" y2="427" stroke="#e0e0ff" stroke-width="0.8"/>
<line x1="83.4" y1="473.4" x2="83.4" y2="467.9" stroke="#7070ff" stroke-width="0.64"/>
<line x1="84.4" y1="473.4" x2="84.4" y2="443.6" stroke="#c0c0ff" stroke-width="1.04"/>
<line x1="85.4" y1="473.4" x2="85.4" y2="463.8" stroke="#e0e0ff" stroke-width="0.64"/>
<line x1="86.5" y1="473.4" x2="86.5" y2="470" stroke="#e0e0ff" stroke-width="0.64"/>
<line x1="91.7" y1="473.4" x2="91.7" y2="466.9" stroke="#c0c0ff" stroke-width="0.64"/>
<line x1="92.5" y1="473.4" x2="92.5" y2="404.8" stroke="#7070ff" stroke-width="0.72"/>
<line x1="93.3" y1="473.4" x2="93.3" y2="465.9" stroke="#7070ff" stroke-width="0.64"/>
<line x1="94.3" y1="473.4" x2="94.3" y2="416" stroke="#e0e0ff" stroke-width="0.8"/>
<line x1="95.3" y1="473.4" x2="95.3" y2="468.9" stroke="#7070ff" stroke-width="0.64"/>
<line x1="101.4" y1="473.4" x2="101.4" y2="465.9" stroke="#c0c0ff" stroke-width="0.64"/>
<line x1="103.8" y1="473.4" x2="103.8" y2="462.8" stroke="#e0e0ff" stroke-width="0.8"/>
<line x1="104.5" y1="473.4" x2="104.5" y2="467.3" stroke="#7070ff" stroke-width="0.64"/>
<line x1="111.5" y1="473.4" x2="111.5" y2="466.9" stroke="#9898ff" stroke-width="0.64"/>
<line x1="113.4" y1="473.4" x2="113.4" y2="429.7" stroke="#7070ff" stroke-width="0.72"/>
<line x1="123.4" y1="473.4" x2="123.4" y2="429.7" stroke="#7070ff" stroke-width="0.72"/>
<line x1="124.5" y1="473.4" x2="124.5" y2="469" stroke="#9898ff" stroke-width="0.64"/>
<text x="46.3" y="355.2" font-family='"Liberation Mono", monospace' font-size="5" fill="#6464f5" textLength="6.2" lengthAdjust="spacingAndGlyphs">43.0</text>
<text x="71.4" y="392.7" font-family='"Liberation Mono", monospace' font-size="5" fill="#6464f5" textLength="6.2" lengthAdjust="spacingAndGlyphs">81.0</text>
<text x="89.03" y="404.2" font-family='"Liberation Mono", monospace' font-size="5" fill="#6464f5" textLength="7.75" lengthAdjust="spacingAndGlyphs">108.0</text>
<text x="54.2" y="423.5" font-family='"Liberation Mono", monospace' font-size="5" fill="#6464f5" textLength="6.2" lengthAdjust="spacingAndGlyphs">55.0</text>
<text x="63.6" y="421.9" font-family='"Liberation Mono", monospace' font-size="5" fill="#6464f5" textLength="6.2" lengthAdjust="spacingAndGlyphs">69.0</text>
<text x="79.9" y="426.6" font-family='"Liberation Mono", monospace' font-size="5" fill="#6464f5" textLength="6.2" lengthAdjust="spacingAndGlyphs">93.0</text>
<text x="109.33" y="429.3" font-family='"Liberation Mono", monospace' font-size="5" fill="#6464f5" textLength="7.75" lengthAdjust="spacingAndGlyphs">139.1</text>
<text x="119.33" y="428.3" font-family='"Liberation Mono", monospace' font-size="5" fill="#6464f5" textLength="7.75" lengthAdjust="spacingAndGlyphs">154.1</text>
<text x="27.4" y="470.2" font-family='"Liberation Mono", monospace' font-size="5" fill="#6464f5" textLength="6.2" lengthAdjust="spacingAndGlyphs">15.0</text>
<text x="35.7" y="461.3" font-family='"Liberation Mono", monospace' font-size="5" fill="#6464f5" textLength="6.2" lengthAdjust="spacingAndGlyphs">27.1</text>
<text x="100.12" y="462.6" font-family='"Liberation Mono", monospace' font-size="5" fill="#6464f5" textLength="7.75" lengthAdjust="spacingAndGlyphs">121.1</text>
<text x="94.6" y="492.5" font-family='"Liberation Serif", serif' font-size="11.6" fill="#000" font-weight="bold" stroke="#000" stroke-width="0.32" font-style="italic" textLength="13.6" lengthAdjust="spacingAndGlyphs">m/z</text>
<text x="222.7" y="217.6" font-family='"Liberation Serif", serif' font-size="10.6" fill="#000" font-weight="bold" stroke="#000" stroke-width="0.25" textLength="5.5" lengthAdjust="spacingAndGlyphs">E</text>
<line x1="231.6" y1="337.5" x2="231.6" y2="217.2" stroke="#444" stroke-width="0.85"/>
<text x="224.34" y="230.9" font-family='"Liberation Mono", monospace' font-size="5.7" fill="#50505e" textLength="6.66" lengthAdjust="spacingAndGlyphs">9000</text>
<line x1="230.1" y1="229" x2="231.6" y2="229" stroke="#444" stroke-width="0.5"/>
<text x="224.34" y="243" font-family='"Liberation Mono", monospace' font-size="5.7" fill="#50505e" textLength="6.66" lengthAdjust="spacingAndGlyphs">8000</text>
<line x1="230.1" y1="241.1" x2="231.6" y2="241.1" stroke="#444" stroke-width="0.5"/>
<text x="224.34" y="255.1" font-family='"Liberation Mono", monospace' font-size="5.7" fill="#50505e" textLength="6.66" lengthAdjust="spacingAndGlyphs">7000</text>
<line x1="230.1" y1="253.2" x2="231.6" y2="253.2" stroke="#444" stroke-width="0.5"/>
<text x="224.34" y="267.2" font-family='"Liberation Mono", monospace' font-size="5.7" fill="#50505e" textLength="6.66" lengthAdjust="spacingAndGlyphs">6000</text>
<line x1="230.1" y1="265.3" x2="231.6" y2="265.3" stroke="#444" stroke-width="0.5"/>
<text x="224.34" y="279.3" font-family='"Liberation Mono", monospace' font-size="5.7" fill="#50505e" textLength="6.66" lengthAdjust="spacingAndGlyphs">5000</text>
<line x1="230.1" y1="277.4" x2="231.6" y2="277.4" stroke="#444" stroke-width="0.5"/>
<text x="224.34" y="291.4" font-family='"Liberation Mono", monospace' font-size="5.7" fill="#50505e" textLength="6.66" lengthAdjust="spacingAndGlyphs">4000</text>
<line x1="230.1" y1="289.5" x2="231.6" y2="289.5" stroke="#444" stroke-width="0.5"/>
<text x="224.34" y="303.5" font-family='"Liberation Mono", monospace' font-size="5.7" fill="#50505e" textLength="6.66" lengthAdjust="spacingAndGlyphs">3000</text>
<line x1="230.1" y1="301.6" x2="231.6" y2="301.6" stroke="#444" stroke-width="0.5"/>
<text x="224.34" y="315.6" font-family='"Liberation Mono", monospace' font-size="5.7" fill="#50505e" textLength="6.66" lengthAdjust="spacingAndGlyphs">2000</text>
<line x1="230.1" y1="313.7" x2="231.6" y2="313.7" stroke="#444" stroke-width="0.5"/>
<text x="224.34" y="327.7" font-family='"Liberation Mono", monospace' font-size="5.7" fill="#50505e" textLength="6.66" lengthAdjust="spacingAndGlyphs">1000</text>
<line x1="230.1" y1="325.8" x2="231.6" y2="325.8" stroke="#444" stroke-width="0.5"/>
<line x1="230.1" y1="337.9" x2="231.6" y2="337.9" stroke="#444" stroke-width="0.5"/>
<line x1="230.6" y1="337.5" x2="445" y2="337.5" stroke="#6a6a6a" stroke-width="0.75"/>
<path d="M233.49 337.5L233.49 338.6M235.96 337.5L235.96 338.6M238.43 337.5L238.43 338.6M240.9 337.5L240.9 339.7M243.37 337.5L243.37 338.6M245.84 337.5L245.84 338.6M248.31 337.5L248.31 338.6M250.78 337.5L250.78 338.6M253.25 337.5L253.25 339.7M255.72 337.5L255.72 338.6M258.19 337.5L258.19 338.6M260.66 337.5L260.66 338.6M263.13 337.5L263.13 338.6M265.6 337.5L265.6 339.7M268.07 337.5L268.07 338.6M270.54 337.5L270.54 338.6M273.01 337.5L273.01 338.6M275.48 337.5L275.48 338.6M277.95 337.5L277.95 339.7M280.42 337.5L280.42 338.6M282.89 337.5L282.89 338.6M285.36 337.5L285.36 338.6M287.83 337.5L287.83 338.6M290.3 337.5L290.3 339.7M292.77 337.5L292.77 338.6M295.24 337.5L295.24 338.6M297.71 337.5L297.71 338.6M300.18 337.5L300.18 338.6M302.65 337.5L302.65 339.7M305.12 337.5L305.12 338.6M307.59 337.5L307.59 338.6M310.06 337.5L310.06 338.6M312.53 337.5L312.53 338.6M315 337.5L315 339.7M317.47 337.5L317.47 338.6M319.94 337.5L319.94 338.6M322.41 337.5L322.41 338.6M324.88 337.5L324.88 338.6M327.35 337.5L327.35 339.7M329.82 337.5L329.82 338.6M332.29 337.5L332.29 338.6M334.76 337.5L334.76 338.6M337.23 337.5L337.23 338.6M339.7 337.5L339.7 339.7M342.17 337.5L342.17 338.6M344.64 337.5L344.64 338.6M347.11 337.5L347.11 338.6M349.58 337.5L349.58 338.6M352.05 337.5L352.05 339.7M354.52 337.5L354.52 338.6M356.99 337.5L356.99 338.6M359.46 337.5L359.46 338.6M361.93 337.5L361.93 338.6M364.4 337.5L364.4 339.7M366.87 337.5L366.87 338.6M369.34 337.5L369.34 338.6M371.81 337.5L371.81 338.6M374.28 337.5L374.28 338.6M376.75 337.5L376.75 339.7M379.22 337.5L379.22 338.6M381.69 337.5L381.69 338.6M384.16 337.5L384.16 338.6M386.63 337.5L386.63 338.6M389.1 337.5L389.1 339.7M391.57 337.5L391.57 338.6M394.04 337.5L394.04 338.6M396.51 337.5L396.51 338.6M398.98 337.5L398.98 338.6M401.45 337.5L401.45 339.7M403.92 337.5L403.92 338.6M406.39 337.5L406.39 338.6M408.86 337.5L408.86 338.6M411.33 337.5L411.33 338.6M413.8 337.5L413.8 339.7M416.27 337.5L416.27 338.6M418.74 337.5L418.74 338.6M421.21 337.5L421.21 338.6M423.68 337.5L423.68 338.6M426.15 337.5L426.15 339.7M428.62 337.5L428.62 338.6M431.09 337.5L431.09 338.6M433.56 337.5L433.56 338.6M436.03 337.5L436.03 338.6M438.5 337.5L438.5 339.7M440.97 337.5L440.97 338.6M443.44 337.5L443.44 338.6" fill="none" stroke="#6a6a6a" stroke-width="0.55"/>
<text x="239.15" y="344.2" font-family='"Liberation Mono", monospace' font-size="5.4" fill="#52525e" textLength="3.5" lengthAdjust="spacingAndGlyphs">20</text>
<text x="251.5" y="344.2" font-family='"Liberation Mono", monospace' font-size="5.4" fill="#52525e" textLength="3.5" lengthAdjust="spacingAndGlyphs">40</text>
<text x="263.85" y="344.2" font-family='"Liberation Mono", monospace' font-size="5.4" fill="#52525e" textLength="3.5" lengthAdjust="spacingAndGlyphs">60</text>
<text x="276.2" y="344.2" font-family='"Liberation Mono", monospace' font-size="5.4" fill="#52525e" textLength="3.5" lengthAdjust="spacingAndGlyphs">80</text>
<text x="287.68" y="344.2" font-family='"Liberation Mono", monospace' font-size="5.4" fill="#52525e" textLength="5.25" lengthAdjust="spacingAndGlyphs">100</text>
<text x="300.03" y="344.2" font-family='"Liberation Mono", monospace' font-size="5.4" fill="#52525e" textLength="5.25" lengthAdjust="spacingAndGlyphs">120</text>
<text x="312.38" y="344.2" font-family='"Liberation Mono", monospace' font-size="5.4" fill="#52525e" textLength="5.25" lengthAdjust="spacingAndGlyphs">140</text>
<text x="324.73" y="344.2" font-family='"Liberation Mono", monospace' font-size="5.4" fill="#52525e" textLength="5.25" lengthAdjust="spacingAndGlyphs">160</text>
<text x="337.08" y="344.2" font-family='"Liberation Mono", monospace' font-size="5.4" fill="#52525e" textLength="5.25" lengthAdjust="spacingAndGlyphs">180</text>
<text x="349.43" y="344.2" font-family='"Liberation Mono", monospace' font-size="5.4" fill="#52525e" textLength="5.25" lengthAdjust="spacingAndGlyphs">200</text>
<text x="361.78" y="344.2" font-family='"Liberation Mono", monospace' font-size="5.4" fill="#52525e" textLength="5.25" lengthAdjust="spacingAndGlyphs">220</text>
<text x="374.12" y="344.2" font-family='"Liberation Mono", monospace' font-size="5.4" fill="#52525e" textLength="5.25" lengthAdjust="spacingAndGlyphs">240</text>
<text x="386.48" y="344.2" font-family='"Liberation Mono", monospace' font-size="5.4" fill="#52525e" textLength="5.25" lengthAdjust="spacingAndGlyphs">260</text>
<text x="398.83" y="344.2" font-family='"Liberation Mono", monospace' font-size="5.4" fill="#52525e" textLength="5.25" lengthAdjust="spacingAndGlyphs">280</text>
<text x="411.18" y="344.2" font-family='"Liberation Mono", monospace' font-size="5.4" fill="#52525e" textLength="5.25" lengthAdjust="spacingAndGlyphs">300</text>
<text x="423.53" y="344.2" font-family='"Liberation Mono", monospace' font-size="5.4" fill="#52525e" textLength="5.25" lengthAdjust="spacingAndGlyphs">320</text>
<text x="435.88" y="344.2" font-family='"Liberation Mono", monospace' font-size="5.4" fill="#52525e" textLength="5.25" lengthAdjust="spacingAndGlyphs">340</text>
<line x1="252.2" y1="337.5" x2="252.2" y2="334.8" stroke="#505050" stroke-width="0.86"/>
<line x1="253" y1="337.5" x2="253" y2="285.2" stroke="#b6b6b6" stroke-width="1.08"/>
<line x1="253.6" y1="337.5" x2="253.6" y2="327.7" stroke="#505050" stroke-width="0.86"/>
<line x1="254.5" y1="337.5" x2="254.5" y2="242.5" stroke="#8a8a8a" stroke-width="0.97"/>
<line x1="255.3" y1="337.5" x2="255.3" y2="322.6" stroke="#505050" stroke-width="0.86"/>
<line x1="260" y1="337.5" x2="260" y2="332.8" stroke="#8a8a8a" stroke-width="0.86"/>
<line x1="261.6" y1="337.5" x2="261.6" y2="300.8" stroke="#b6b6b6" stroke-width="1.08"/>
<line x1="262.3" y1="337.5" x2="262.3" y2="328.7" stroke="#505050" stroke-width="0.86"/>
<line x1="263" y1="337.5" x2="263" y2="249.6" stroke="#b6b6b6" stroke-width="1.19"/>
<line x1="263.7" y1="337.5" x2="263.7" y2="330.7" stroke="#505050" stroke-width="0.86"/>
<line x1="267.6" y1="337.5" x2="267.6" y2="333.8" stroke="#8a8a8a" stroke-width="0.86"/>
<line x1="268.8" y1="337.5" x2="268.8" y2="320.6" stroke="#b6b6b6" stroke-width="0.86"/>
<line x1="270.5" y1="337.5" x2="270.5" y2="257" stroke="#8a8a8a" stroke-width="1.08"/>
<line x1="271.5" y1="337.5" x2="271.5" y2="233.8" stroke="#505050" stroke-width="0.97"/>
<line x1="272.3" y1="337.5" x2="272.3" y2="328.7" stroke="#8a8a8a" stroke-width="0.86"/>
<line x1="276.1" y1="337.5" x2="276.1" y2="309.5" stroke="#8a8a8a" stroke-width="0.86"/>
<line x1="277.3" y1="337.5" x2="277.3" y2="306.4" stroke="#8a8a8a" stroke-width="0.86"/>
<line x1="278.6" y1="337.5" x2="278.6" y2="294.3" stroke="#505050" stroke-width="1.51"/>
<line x1="279" y1="337.5" x2="279" y2="217.2" stroke="#b6b6b6" stroke-width="1.73"/>
<line x1="280.1" y1="337.5" x2="280.1" y2="237.4" stroke="#8a8a8a" stroke-width="1.08"/>
<line x1="281" y1="337.5" x2="281" y2="329.1" stroke="#505050" stroke-width="0.86"/>
<line x1="285" y1="337.5" x2="285" y2="316.6" stroke="#b6b6b6" stroke-width="0.86"/>
<line x1="286.3" y1="337.5" x2="286.3" y2="287.8" stroke="#8a8a8a" stroke-width="1.08"/>
<line x1="287.5" y1="337.5" x2="287.5" y2="217.2" stroke="#505050" stroke-width="0.97"/>
<line x1="288.3" y1="337.5" x2="288.3" y2="302.4" stroke="#8a8a8a" stroke-width="0.86"/>
<line x1="289" y1="337.5" x2="289" y2="319.6" stroke="#505050" stroke-width="0.86"/>
<line x1="295.6" y1="337.5" x2="295.6" y2="217.2" stroke="#b6b6b6" stroke-width="0.97"/>
<line x1="296.6" y1="337.5" x2="296.6" y2="231" stroke="#505050" stroke-width="1.08"/>
<line x1="297.4" y1="337.5" x2="297.4" y2="331.7" stroke="#8a8a8a" stroke-width="0.86"/>
<line x1="302.7" y1="337.5" x2="302.7" y2="335.2" stroke="#b6b6b6" stroke-width="0.86"/>
<line x1="304.3" y1="337.5" x2="304.3" y2="334.4" stroke="#b6b6b6" stroke-width="0.86"/>
<line x1="305.3" y1="337.5" x2="305.3" y2="333.8" stroke="#505050" stroke-width="0.86"/>
<line x1="313.6" y1="337.5" x2="313.6" y2="321.6" stroke="#505050" stroke-width="0.86"/>
<line x1="323.2" y1="337.5" x2="323.2" y2="229.4" stroke="#b6b6b6" stroke-width="1.73"/>
<line x1="323.8" y1="337.5" x2="323.8" y2="323.6" stroke="#505050" stroke-width="0.86"/>
<text x="250.8" y="241.9" font-family='"Liberation Mono", monospace' font-size="5" fill="#6464f5" textLength="6.2" lengthAdjust="spacingAndGlyphs">41.1</text>
<text x="259.9" y="249.9" font-family='"Liberation Mono", monospace' font-size="5" fill="#6464f5" textLength="6.2" lengthAdjust="spacingAndGlyphs">55.1</text>
<text x="276.2" y="220.5" font-family='"Liberation Mono", monospace' font-size="5" fill="#6464f5" textLength="6.2" lengthAdjust="spacingAndGlyphs">81.1</text>
<text x="285.1" y="220.5" font-family='"Liberation Mono", monospace' font-size="5" fill="#6464f5" textLength="6.2" lengthAdjust="spacingAndGlyphs">95.1</text>
<text x="293.43" y="290.4" font-family='"Liberation Mono", monospace' font-size="5" fill="#6464f5" textLength="7.75" lengthAdjust="spacingAndGlyphs">109.1</text>
<text x="319.12" y="229.2" font-family='"Liberation Mono", monospace' font-size="5" fill="#6464f5" textLength="7.75" lengthAdjust="spacingAndGlyphs">152.1</text>
<text x="310.12" y="320.3" font-family='"Liberation Mono", monospace' font-size="5" fill="#6464f5" textLength="7.75" lengthAdjust="spacingAndGlyphs">137.1</text>
<text x="335.4" y="336.9" font-family='"Liberation Mono", monospace' font-size="5" fill="#6a6aff" textLength="36" lengthAdjust="spacingAndGlyphs">178.0193.1208.1222.0</text>
<text x="378.8" y="336.9" font-family='"Liberation Mono", monospace' font-size="5" fill="#6a6aff" textLength="28.8" lengthAdjust="spacingAndGlyphs">249.9 267.0281.0</text>
<text x="424.07" y="336.9" font-family='"Liberation Mono", monospace' font-size="5" fill="#6a6aff" textLength="19.25" lengthAdjust="spacingAndGlyphs">325.0 339.0</text>
<text x="220" y="356.8" font-family='"Liberation Serif", serif' font-size="10.6" fill="#000" font-weight="bold" stroke="#000" stroke-width="0.25" textLength="7.3" lengthAdjust="spacingAndGlyphs">G</text>
<line x1="230.8" y1="474.4" x2="230.8" y2="353.2" stroke="#444" stroke-width="0.85"/>
<text x="223.54" y="367.2" font-family='"Liberation Mono", monospace' font-size="5.7" fill="#50505e" textLength="6.66" lengthAdjust="spacingAndGlyphs">9000</text>
<line x1="229.3" y1="365.3" x2="230.8" y2="365.3" stroke="#444" stroke-width="0.5"/>
<text x="223.54" y="379.33" font-family='"Liberation Mono", monospace' font-size="5.7" fill="#50505e" textLength="6.66" lengthAdjust="spacingAndGlyphs">8000</text>
<line x1="229.3" y1="377.43" x2="230.8" y2="377.43" stroke="#444" stroke-width="0.5"/>
<text x="223.54" y="391.46" font-family='"Liberation Mono", monospace' font-size="5.7" fill="#50505e" textLength="6.66" lengthAdjust="spacingAndGlyphs">7000</text>
<line x1="229.3" y1="389.56" x2="230.8" y2="389.56" stroke="#444" stroke-width="0.5"/>
<text x="223.54" y="403.59" font-family='"Liberation Mono", monospace' font-size="5.7" fill="#50505e" textLength="6.66" lengthAdjust="spacingAndGlyphs">6000</text>
<line x1="229.3" y1="401.69" x2="230.8" y2="401.69" stroke="#444" stroke-width="0.5"/>
<text x="223.54" y="415.72" font-family='"Liberation Mono", monospace' font-size="5.7" fill="#50505e" textLength="6.66" lengthAdjust="spacingAndGlyphs">5000</text>
<line x1="229.3" y1="413.82" x2="230.8" y2="413.82" stroke="#444" stroke-width="0.5"/>
<text x="223.54" y="427.85" font-family='"Liberation Mono", monospace' font-size="5.7" fill="#50505e" textLength="6.66" lengthAdjust="spacingAndGlyphs">4000</text>
<line x1="229.3" y1="425.95" x2="230.8" y2="425.95" stroke="#444" stroke-width="0.5"/>
<text x="223.54" y="439.98" font-family='"Liberation Mono", monospace' font-size="5.7" fill="#50505e" textLength="6.66" lengthAdjust="spacingAndGlyphs">3000</text>
<line x1="229.3" y1="438.08" x2="230.8" y2="438.08" stroke="#444" stroke-width="0.5"/>
<text x="223.54" y="452.11" font-family='"Liberation Mono", monospace' font-size="5.7" fill="#50505e" textLength="6.66" lengthAdjust="spacingAndGlyphs">2000</text>
<line x1="229.3" y1="450.21" x2="230.8" y2="450.21" stroke="#444" stroke-width="0.5"/>
<text x="223.54" y="464.24" font-family='"Liberation Mono", monospace' font-size="5.7" fill="#50505e" textLength="6.66" lengthAdjust="spacingAndGlyphs">1000</text>
<line x1="229.3" y1="462.34" x2="230.8" y2="462.34" stroke="#444" stroke-width="0.5"/>
<line x1="229.3" y1="474.47" x2="230.8" y2="474.47" stroke="#444" stroke-width="0.5"/>
<line x1="229.8" y1="474.4" x2="445" y2="474.4" stroke="#6a6a6a" stroke-width="0.75"/>
<path d="M232.86 474.4L232.86 475.5M235.33 474.4L235.33 475.5M237.81 474.4L237.81 475.5M240.29 474.4L240.29 476.6M242.77 474.4L242.77 475.5M245.25 474.4L245.25 475.5M247.72 474.4L247.72 475.5M250.2 474.4L250.2 475.5M252.68 474.4L252.68 476.6M255.16 474.4L255.16 475.5M257.64 474.4L257.64 475.5M260.11 474.4L260.11 475.5M262.59 474.4L262.59 475.5M265.07 474.4L265.07 476.6M267.55 474.4L267.55 475.5M270.03 474.4L270.03 475.5M272.5 474.4L272.5 475.5M274.98 474.4L274.98 475.5M277.46 474.4L277.46 476.6M279.94 474.4L279.94 475.5M282.42 474.4L282.42 475.5M284.89 474.4L284.89 475.5M287.37 474.4L287.37 475.5M289.85 474.4L289.85 476.6M292.33 474.4L292.33 475.5M294.81 474.4L294.81 475.5M297.28 474.4L297.28 475.5M299.76 474.4L299.76 475.5M302.24 474.4L302.24 476.6M304.72 474.4L304.72 475.5M307.2 474.4L307.2 475.5M309.67 474.4L309.67 475.5M312.15 474.4L312.15 475.5M314.63 474.4L314.63 476.6M317.11 474.4L317.11 475.5M319.59 474.4L319.59 475.5M322.06 474.4L322.06 475.5M324.54 474.4L324.54 475.5M327.02 474.4L327.02 476.6M329.5 474.4L329.5 475.5M331.98 474.4L331.98 475.5M334.45 474.4L334.45 475.5M336.93 474.4L336.93 475.5M339.41 474.4L339.41 476.6M341.89 474.4L341.89 475.5M344.37 474.4L344.37 475.5M346.84 474.4L346.84 475.5M349.32 474.4L349.32 475.5M351.8 474.4L351.8 476.6M354.28 474.4L354.28 475.5M356.76 474.4L356.76 475.5M359.23 474.4L359.23 475.5M361.71 474.4L361.71 475.5M364.19 474.4L364.19 476.6M366.67 474.4L366.67 475.5M369.15 474.4L369.15 475.5M371.62 474.4L371.62 475.5M374.1 474.4L374.1 475.5M376.58 474.4L376.58 476.6M379.06 474.4L379.06 475.5M381.54 474.4L381.54 475.5M384.01 474.4L384.01 475.5M386.49 474.4L386.49 475.5M388.97 474.4L388.97 476.6M391.45 474.4L391.45 475.5M393.93 474.4L393.93 475.5M396.4 474.4L396.4 475.5M398.88 474.4L398.88 475.5M401.36 474.4L401.36 476.6M403.84 474.4L403.84 475.5M406.32 474.4L406.32 475.5M408.79 474.4L408.79 475.5M411.27 474.4L411.27 475.5M413.75 474.4L413.75 476.6M416.23 474.4L416.23 475.5M418.71 474.4L418.71 475.5M421.18 474.4L421.18 475.5M423.66 474.4L423.66 475.5M426.14 474.4L426.14 476.6M428.62 474.4L428.62 475.5M431.1 474.4L431.1 475.5M433.57 474.4L433.57 475.5M436.05 474.4L436.05 475.5M438.53 474.4L438.53 476.6M441.01 474.4L441.01 475.5M443.49 474.4L443.49 475.5" fill="none" stroke="#6a6a6a" stroke-width="0.55"/>
<text x="238.54" y="480.5" font-family='"Liberation Mono", monospace' font-size="5.4" fill="#52525e" textLength="3.5" lengthAdjust="spacingAndGlyphs">20</text>
<text x="250.93" y="480.5" font-family='"Liberation Mono", monospace' font-size="5.4" fill="#52525e" textLength="3.5" lengthAdjust="spacingAndGlyphs">40</text>
<text x="263.32" y="480.5" font-family='"Liberation Mono", monospace' font-size="5.4" fill="#52525e" textLength="3.5" lengthAdjust="spacingAndGlyphs">60</text>
<text x="275.71" y="480.5" font-family='"Liberation Mono", monospace' font-size="5.4" fill="#52525e" textLength="3.5" lengthAdjust="spacingAndGlyphs">80</text>
<text x="287.23" y="480.5" font-family='"Liberation Mono", monospace' font-size="5.4" fill="#52525e" textLength="5.25" lengthAdjust="spacingAndGlyphs">100</text>
<text x="299.62" y="480.5" font-family='"Liberation Mono", monospace' font-size="5.4" fill="#52525e" textLength="5.25" lengthAdjust="spacingAndGlyphs">120</text>
<text x="312" y="480.5" font-family='"Liberation Mono", monospace' font-size="5.4" fill="#52525e" textLength="5.25" lengthAdjust="spacingAndGlyphs">140</text>
<text x="324.39" y="480.5" font-family='"Liberation Mono", monospace' font-size="5.4" fill="#52525e" textLength="5.25" lengthAdjust="spacingAndGlyphs">160</text>
<text x="336.79" y="480.5" font-family='"Liberation Mono", monospace' font-size="5.4" fill="#52525e" textLength="5.25" lengthAdjust="spacingAndGlyphs">180</text>
<text x="349.18" y="480.5" font-family='"Liberation Mono", monospace' font-size="5.4" fill="#52525e" textLength="5.25" lengthAdjust="spacingAndGlyphs">200</text>
<text x="361.57" y="480.5" font-family='"Liberation Mono", monospace' font-size="5.4" fill="#52525e" textLength="5.25" lengthAdjust="spacingAndGlyphs">220</text>
<text x="373.96" y="480.5" font-family='"Liberation Mono", monospace' font-size="5.4" fill="#52525e" textLength="5.25" lengthAdjust="spacingAndGlyphs">240</text>
<text x="386.35" y="480.5" font-family='"Liberation Mono", monospace' font-size="5.4" fill="#52525e" textLength="5.25" lengthAdjust="spacingAndGlyphs">260</text>
<text x="398.74" y="480.5" font-family='"Liberation Mono", monospace' font-size="5.4" fill="#52525e" textLength="5.25" lengthAdjust="spacingAndGlyphs">280</text>
<text x="411.12" y="480.5" font-family='"Liberation Mono", monospace' font-size="5.4" fill="#52525e" textLength="5.25" lengthAdjust="spacingAndGlyphs">300</text>
<text x="423.51" y="480.5" font-family='"Liberation Mono", monospace' font-size="5.4" fill="#52525e" textLength="5.25" lengthAdjust="spacingAndGlyphs">320</text>
<text x="435.91" y="480.5" font-family='"Liberation Mono", monospace' font-size="5.4" fill="#52525e" textLength="5.25" lengthAdjust="spacingAndGlyphs">340</text>
<line x1="244.6" y1="474.4" x2="244.6" y2="466.3" stroke="#7070ff" stroke-width="0.8"/>
<line x1="245.8" y1="474.4" x2="245.8" y2="469" stroke="#e0e0ff" stroke-width="0.8"/>
<line x1="252" y1="474.4" x2="252" y2="449" stroke="#c0c0ff" stroke-width="0.8"/>
<line x1="252.8" y1="474.4" x2="252.8" y2="469" stroke="#7070ff" stroke-width="0.8"/>
<line x1="253.5" y1="474.4" x2="253.5" y2="426.6" stroke="#7070ff" stroke-width="0.9"/>
<line x1="254.3" y1="474.4" x2="254.3" y2="469" stroke="#7070ff" stroke-width="0.8"/>
<line x1="259.5" y1="474.4" x2="259.5" y2="468.5" stroke="#7070ff" stroke-width="0.8"/>
<line x1="260.7" y1="474.4" x2="260.7" y2="458.4" stroke="#c0c0ff" stroke-width="0.8"/>
<line x1="261.3" y1="474.4" x2="261.3" y2="470" stroke="#7070ff" stroke-width="0.8"/>
<line x1="262" y1="474.4" x2="262" y2="432.7" stroke="#c0c0ff" stroke-width="1.1"/>
<line x1="262.8" y1="474.4" x2="262.8" y2="470" stroke="#7070ff" stroke-width="0.8"/>
<line x1="268" y1="474.4" x2="268" y2="468" stroke="#e0e0ff" stroke-width="0.8"/>
<line x1="269.3" y1="474.4" x2="269.3" y2="443" stroke="#c0c0ff" stroke-width="1"/>
<line x1="270.5" y1="474.4" x2="270.5" y2="433.5" stroke="#9898ff" stroke-width="1"/>
<line x1="270.5" y1="474.4" x2="270.5" y2="456.8" stroke="#7070ff" stroke-width="1"/>
<line x1="271.7" y1="474.4" x2="271.7" y2="470" stroke="#7070ff" stroke-width="0.8"/>
<line x1="275.3" y1="474.4" x2="275.3" y2="464.9" stroke="#e0e0ff" stroke-width="0.8"/>
<line x1="276.3" y1="474.4" x2="276.3" y2="462.8" stroke="#e0e0ff" stroke-width="0.8"/>
<line x1="278" y1="474.4" x2="278" y2="389.6" stroke="#c0c0ff" stroke-width="1.7"/>
<line x1="278.5" y1="474.4" x2="278.5" y2="458.8" stroke="#7070ff" stroke-width="0.8"/>
<line x1="279.5" y1="474.4" x2="279.5" y2="436" stroke="#e0e0ff" stroke-width="1"/>
<line x1="284.8" y1="474.4" x2="284.8" y2="466.9" stroke="#e0e0ff" stroke-width="0.8"/>
<line x1="285.6" y1="474.4" x2="285.6" y2="456.8" stroke="#9898ff" stroke-width="0.8"/>
<line x1="286.3" y1="474.4" x2="286.3" y2="353.8" stroke="#7070ff" stroke-width="1"/>
<line x1="287.3" y1="474.4" x2="287.3" y2="462.8" stroke="#7070ff" stroke-width="0.8"/>
<line x1="294.4" y1="474.4" x2="294.4" y2="422" stroke="#c0c0ff" stroke-width="0.9"/>
<line x1="295.4" y1="474.4" x2="295.4" y2="432" stroke="#7070ff" stroke-width="1"/>
<line x1="296.2" y1="474.4" x2="296.2" y2="457.8" stroke="#c0c0ff" stroke-width="0.8"/>
<line x1="304" y1="474.4" x2="304" y2="472.6" stroke="#9898ff" stroke-width="0.8"/>
<line x1="312.8" y1="474.4" x2="312.8" y2="469" stroke="#c0c0ff" stroke-width="0.8"/>
<line x1="321.8" y1="474.4" x2="321.8" y2="435.1" stroke="#c0c0ff" stroke-width="1.3"/>
<line x1="322.6" y1="474.4" x2="322.6" y2="470" stroke="#7070ff" stroke-width="0.8"/>
<text x="283.8" y="357" font-family='"Liberation Mono", monospace' font-size="5" fill="#6464f5" textLength="6.2" lengthAdjust="spacingAndGlyphs">95.0</text>
<text x="274.9" y="389.5" font-family='"Liberation Mono", monospace' font-size="5" fill="#6464f5" textLength="6.2" lengthAdjust="spacingAndGlyphs">81.0</text>
<text x="250.4" y="425.9" font-family='"Liberation Mono", monospace' font-size="5" fill="#6464f5" textLength="6.2" lengthAdjust="spacingAndGlyphs">41.0</text>
<text x="258.9" y="432" font-family='"Liberation Mono", monospace' font-size="5" fill="#6464f5" textLength="6.2" lengthAdjust="spacingAndGlyphs">55.0</text>
<text x="291.73" y="431.4" font-family='"Liberation Mono", monospace' font-size="5" fill="#6464f5" textLength="7.75" lengthAdjust="spacingAndGlyphs">108.0</text>
<text x="318.73" y="434.6" font-family='"Liberation Mono", monospace' font-size="5" fill="#6464f5" textLength="7.75" lengthAdjust="spacingAndGlyphs">152.0</text>
<text x="241.5" y="464.4" font-family='"Liberation Mono", monospace' font-size="5" fill="#6464f5" textLength="6.2" lengthAdjust="spacingAndGlyphs">27.0</text>
<text x="300.12" y="472" font-family='"Liberation Mono", monospace' font-size="5" fill="#6464f5" textLength="7.75" lengthAdjust="spacingAndGlyphs">123.0</text>
<text x="309.12" y="467.4" font-family='"Liberation Mono", monospace' font-size="5" fill="#6464f5" textLength="7.75" lengthAdjust="spacingAndGlyphs">137.0</text>
<text x="340.5" y="492" font-family='"Liberation Serif", serif' font-size="11.6" fill="#000" font-weight="bold" stroke="#000" stroke-width="0.32" font-style="italic" textLength="13.7" lengthAdjust="spacingAndGlyphs">m/z</text>
<g transform="translate(8.1 397.2) rotate(-90)">
<text x="0" y="0" font-family='"Liberation Serif", serif' font-size="11.7" fill="#000" font-weight="bold" textLength="103.7" lengthAdjust="spacingAndGlyphs" stroke="#000" stroke-width="0.4">Relative Intensity</text>
</g>
<line x1="182.4" y1="385.9" x2="182.4" y2="375.7" stroke="#1a1a1a" stroke-width="0.9"/>
<line x1="182.4" y1="385.9" x2="170.3" y2="391.6" stroke="#1a1a1a" stroke-width="0.9"/>
<line x1="182.4" y1="385.9" x2="194.6" y2="391.6" stroke="#1a1a1a" stroke-width="0.9"/>
<line x1="170.3" y1="391.6" x2="170.3" y2="402.9" stroke="#1a1a1a" stroke-width="0.9"/>
<line x1="194.6" y1="391.6" x2="194.6" y2="402.9" stroke="#1a1a1a" stroke-width="0.9"/>
<line x1="194.6" y1="402.9" x2="182.4" y2="408.6" stroke="#1a1a1a" stroke-width="0.9"/>
<line x1="182.4" y1="408.6" x2="182.4" y2="419.1" stroke="#1a1a1a" stroke-width="0.9"/>
<line x1="182.4" y1="419.1" x2="170.7" y2="424.8" stroke="#1a1a1a" stroke-width="0.9"/>
<line x1="182.4" y1="419.1" x2="194.1" y2="424.8" stroke="#1a1a1a" stroke-width="0.9"/>
<line x1="170.3" y1="402.9" x2="172.6" y2="404" stroke="#1a1a1a" stroke-width="0.9"/>
<line x1="179.3" y1="407.2" x2="182.4" y2="408.6" stroke="#1a1a1a" stroke-width="0.9"/>
<polygon points="182.4,385.9 176.4,397.6 178.9,398.6" fill="#111"/>
<polygon points="182.4,419.1 176.3,404.9 178.9,404.0" fill="#111"/>
<ellipse cx="175.9" cy="401.3" rx="3.0" ry="2.9" fill="#fff" stroke="#111" stroke-width="1.05"/>
<line x1="376.4" y1="386.1" x2="362.2" y2="380.1" stroke="#1a1a1a" stroke-width="0.9"/>
<line x1="376.4" y1="386.1" x2="384.8" y2="375.5" stroke="#1a1a1a" stroke-width="0.9"/>
<line x1="376.4" y1="386.1" x2="375.6" y2="410.4" stroke="#1a1a1a" stroke-width="0.9"/>
<line x1="383.5" y1="398.2" x2="399.4" y2="402.6" stroke="#1a1a1a" stroke-width="0.9"/>
<line x1="399.4" y1="402.6" x2="391.8" y2="413.3" stroke="#1a1a1a" stroke-width="0.9"/>
<line x1="391.8" y1="413.3" x2="375.6" y2="410.4" stroke="#1a1a1a" stroke-width="0.9"/>
<line x1="375.6" y1="410.4" x2="360.5" y2="413.3" stroke="#1a1a1a" stroke-width="0.9"/>
<line x1="360.5" y1="413.3" x2="369.1" y2="401.5" stroke="#1a1a1a" stroke-width="0.9"/>
<line x1="369.1" y1="401.5" x2="374.3" y2="401.3" stroke="#1a1a1a" stroke-width="0.9"/>
<line x1="378.2" y1="399.7" x2="383.5" y2="398.2" stroke="#1a1a1a" stroke-width="0.9"/>
<polygon points="376.4,386.1 382.1,399.2 384.9,397.4" fill="#111"/>
<polygon points="375.6,410.4 365.6,419.8 368.4,422.0" fill="#111"/>
<line x1="392.4" y1="413.1" x2="396.4" y2="422" stroke="#1a1a1a" stroke-width="0.9"/>
<line x1="390.9" y1="413.8" x2="394.9" y2="422.8" stroke="#1a1a1a" stroke-width="0.9"/>
<ellipse cx="397.8" cy="426.6" rx="3.3" ry="3.3" fill="none" stroke="#111" stroke-width="1.05"/>
</svg>
</body></html>
